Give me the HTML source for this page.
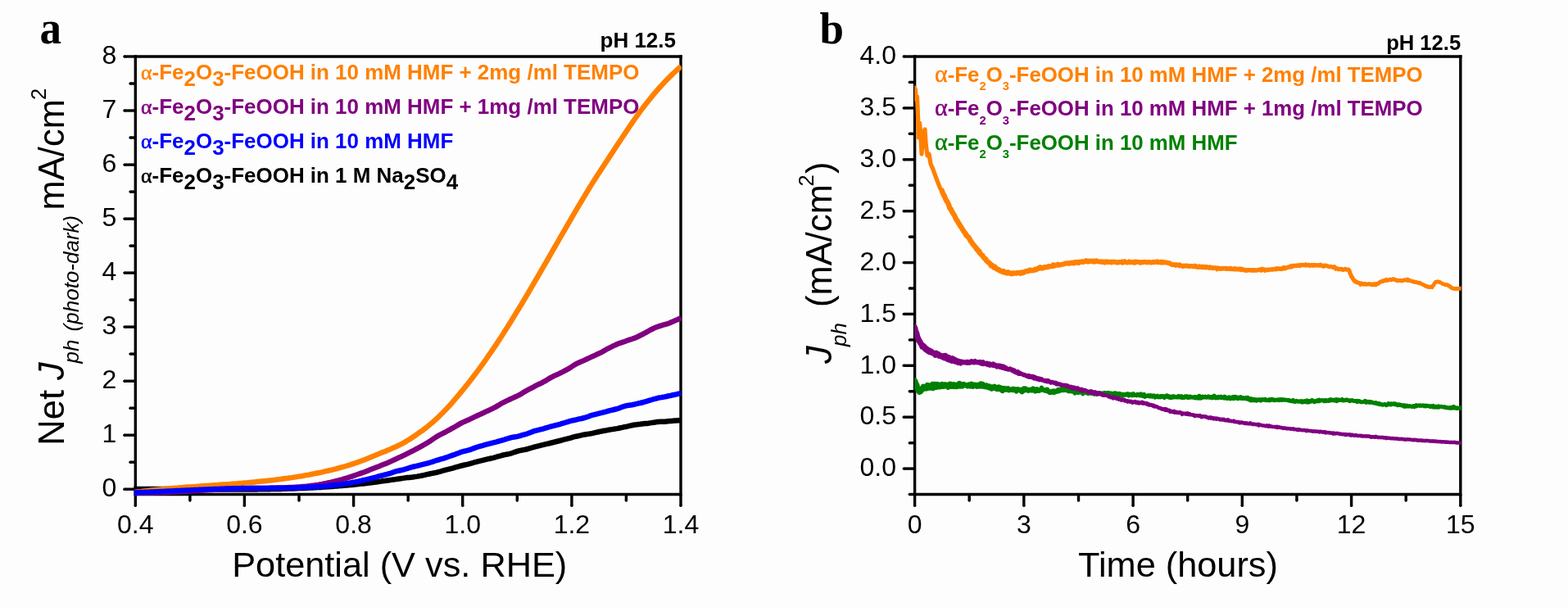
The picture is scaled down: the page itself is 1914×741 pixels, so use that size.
<!DOCTYPE html>
<html lang="en"><head><meta charset="utf-8"><title>Figure</title>
<style>html,body{margin:0;padding:0;background:#fdfdfd;}body{width:1914px;height:741px;overflow:hidden;}svg{display:block;}text{font-family:"Liberation Sans",sans-serif;}.serif{font-family:"Liberation Serif",serif;font-weight:bold;}.b{font-weight:bold;}.i{font-style:italic;}.al{font-family:"Liberation Serif",serif;font-weight:normal;stroke-width:0.5px;paint-order:stroke;}</style></head><body>
<svg width="1914" height="741" viewBox="0 0 1914 741">
<rect width="1914" height="741" fill="#fdfdfd"/>
<g id="chart-a">
<g id="axes-a">
<line x1="165.3" y1="67.3" x2="165.3" y2="605.2" stroke="#000" stroke-width="3.4" stroke-linecap="butt"/>
<line x1="165.3" y1="603.5" x2="165.3" y2="617.3" stroke="#000" stroke-width="3.4" stroke-linecap="butt"/>
<circle cx="165.3" cy="617.3" r="1.70" fill="#000"/>
<line x1="831.0" y1="67.3" x2="831.0" y2="605.2" stroke="#000" stroke-width="3.4" stroke-linecap="butt"/>
<line x1="831.0" y1="603.5" x2="831.0" y2="617.3" stroke="#000" stroke-width="3.4" stroke-linecap="butt"/>
<circle cx="831.0" cy="617.3" r="1.70" fill="#000"/>
<line x1="165.3" y1="69.0" x2="832.7" y2="69.0" stroke="#000" stroke-width="3.4" stroke-linecap="butt"/>
<line x1="165.3" y1="69.0" x2="151.9" y2="69.0" stroke="#000" stroke-width="3.4" stroke-linecap="butt"/>
<circle cx="151.9" cy="69.0" r="1.70" fill="#000"/>
<line x1="165.3" y1="603.5" x2="831.0" y2="603.5" stroke="#000" stroke-width="3.4" stroke-linecap="butt"/>
<line x1="165.3" y1="597.2" x2="151.9" y2="597.2" stroke="#000" stroke-width="3.4" stroke-linecap="butt"/>
<circle cx="151.9" cy="597.2" r="1.70" fill="#000"/>
<line x1="165.3" y1="531.2" x2="151.9" y2="531.2" stroke="#000" stroke-width="3.4" stroke-linecap="butt"/>
<circle cx="151.9" cy="531.2" r="1.70" fill="#000"/>
<line x1="165.3" y1="465.2" x2="151.9" y2="465.2" stroke="#000" stroke-width="3.4" stroke-linecap="butt"/>
<circle cx="151.9" cy="465.2" r="1.70" fill="#000"/>
<line x1="165.3" y1="399.1" x2="151.9" y2="399.1" stroke="#000" stroke-width="3.4" stroke-linecap="butt"/>
<circle cx="151.9" cy="399.1" r="1.70" fill="#000"/>
<line x1="165.3" y1="333.1" x2="151.9" y2="333.1" stroke="#000" stroke-width="3.4" stroke-linecap="butt"/>
<circle cx="151.9" cy="333.1" r="1.70" fill="#000"/>
<line x1="165.3" y1="267.1" x2="151.9" y2="267.1" stroke="#000" stroke-width="3.4" stroke-linecap="butt"/>
<circle cx="151.9" cy="267.1" r="1.70" fill="#000"/>
<line x1="165.3" y1="201.1" x2="151.9" y2="201.1" stroke="#000" stroke-width="3.4" stroke-linecap="butt"/>
<circle cx="151.9" cy="201.1" r="1.70" fill="#000"/>
<line x1="165.3" y1="135.0" x2="151.9" y2="135.0" stroke="#000" stroke-width="3.4" stroke-linecap="butt"/>
<circle cx="151.9" cy="135.0" r="1.70" fill="#000"/>
<line x1="165.3" y1="564.2" x2="159.0" y2="564.2" stroke="#000" stroke-width="3.4" stroke-linecap="butt"/>
<circle cx="159.0" cy="564.2" r="1.70" fill="#000"/>
<line x1="165.3" y1="498.2" x2="159.0" y2="498.2" stroke="#000" stroke-width="3.4" stroke-linecap="butt"/>
<circle cx="159.0" cy="498.2" r="1.70" fill="#000"/>
<line x1="165.3" y1="432.1" x2="159.0" y2="432.1" stroke="#000" stroke-width="3.4" stroke-linecap="butt"/>
<circle cx="159.0" cy="432.1" r="1.70" fill="#000"/>
<line x1="165.3" y1="366.1" x2="159.0" y2="366.1" stroke="#000" stroke-width="3.4" stroke-linecap="butt"/>
<circle cx="159.0" cy="366.1" r="1.70" fill="#000"/>
<line x1="165.3" y1="300.1" x2="159.0" y2="300.1" stroke="#000" stroke-width="3.4" stroke-linecap="butt"/>
<circle cx="159.0" cy="300.1" r="1.70" fill="#000"/>
<line x1="165.3" y1="234.1" x2="159.0" y2="234.1" stroke="#000" stroke-width="3.4" stroke-linecap="butt"/>
<circle cx="159.0" cy="234.1" r="1.70" fill="#000"/>
<line x1="165.3" y1="168.0" x2="159.0" y2="168.0" stroke="#000" stroke-width="3.4" stroke-linecap="butt"/>
<circle cx="159.0" cy="168.0" r="1.70" fill="#000"/>
<line x1="165.3" y1="102.0" x2="159.0" y2="102.0" stroke="#000" stroke-width="3.4" stroke-linecap="butt"/>
<circle cx="159.0" cy="102.0" r="1.70" fill="#000"/>
<line x1="231.9" y1="603.5" x2="231.9" y2="611.0" stroke="#000" stroke-width="3.4" stroke-linecap="butt"/>
<circle cx="231.9" cy="611.0" r="1.70" fill="#000"/>
<line x1="298.4" y1="603.5" x2="298.4" y2="617.3" stroke="#000" stroke-width="3.4" stroke-linecap="butt"/>
<circle cx="298.4" cy="617.3" r="1.70" fill="#000"/>
<line x1="365.0" y1="603.5" x2="365.0" y2="611.0" stroke="#000" stroke-width="3.4" stroke-linecap="butt"/>
<circle cx="365.0" cy="611.0" r="1.70" fill="#000"/>
<line x1="431.6" y1="603.5" x2="431.6" y2="617.3" stroke="#000" stroke-width="3.4" stroke-linecap="butt"/>
<circle cx="431.6" cy="617.3" r="1.70" fill="#000"/>
<line x1="498.2" y1="603.5" x2="498.2" y2="611.0" stroke="#000" stroke-width="3.4" stroke-linecap="butt"/>
<circle cx="498.2" cy="611.0" r="1.70" fill="#000"/>
<line x1="564.7" y1="603.5" x2="564.7" y2="617.3" stroke="#000" stroke-width="3.4" stroke-linecap="butt"/>
<circle cx="564.7" cy="617.3" r="1.70" fill="#000"/>
<line x1="631.3" y1="603.5" x2="631.3" y2="611.0" stroke="#000" stroke-width="3.4" stroke-linecap="butt"/>
<circle cx="631.3" cy="611.0" r="1.70" fill="#000"/>
<line x1="697.9" y1="603.5" x2="697.9" y2="617.3" stroke="#000" stroke-width="3.4" stroke-linecap="butt"/>
<circle cx="697.9" cy="617.3" r="1.70" fill="#000"/>
<line x1="764.4" y1="603.5" x2="764.4" y2="611.0" stroke="#000" stroke-width="3.4" stroke-linecap="butt"/>
<circle cx="764.4" cy="611.0" r="1.70" fill="#000"/>
</g>
<clipPath id="clipa"><rect x="163.4" y="60" width="668.3" height="560"/></clipPath>
<g clip-path="url(#clipa)">
<path d="M163.0 596.9 L165.0 596.9 L167.0 596.9 L169.0 596.9 L171.0 596.9 L173.0 596.9 L175.0 596.9 L177.0 596.9 L179.0 596.9 L181.0 596.9 L183.0 596.9 L185.0 596.9 L187.0 596.9 L189.0 596.9 L191.0 596.9 L193.0 596.9 L195.0 596.9 L197.0 596.9 L199.0 596.9 L201.0 596.9 L203.0 597.0 L205.0 597.0 L207.0 597.0 L209.0 597.0 L211.0 597.0 L213.0 597.0 L215.0 597.0 L217.0 597.0 L219.0 597.1 L221.0 597.1 L223.0 597.1 L225.0 597.1 L227.0 597.1 L229.0 597.1 L231.1 597.2 L233.1 597.2 L235.1 597.2 L237.1 597.2 L239.1 597.2 L241.1 597.2 L243.1 597.3 L245.1 597.3 L247.1 597.3 L249.1 597.3 L251.1 597.3 L253.1 597.3 L255.1 597.3 L257.1 597.4 L259.1 597.4 L261.1 597.4 L263.1 597.4 L265.1 597.4 L267.1 597.4 L269.1 597.4 L271.1 597.4 L273.1 597.4 L275.1 597.5 L277.1 597.5 L279.1 597.5 L281.1 597.5 L283.1 597.5 L285.1 597.5 L287.1 597.5 L289.1 597.5 L291.1 597.5 L293.1 597.5 L295.1 597.5 L297.1 597.5 L299.1 597.5 L301.1 597.4 L303.1 597.4 L305.1 597.4 L307.1 597.4 L309.1 597.4 L311.1 597.4 L313.1 597.4 L315.1 597.3 L317.1 597.3 L319.1 597.3 L321.1 597.3 L323.1 597.2 L325.1 597.2 L327.1 597.2 L329.1 597.2 L331.1 597.1 L333.1 597.1 L335.1 597.0 L337.1 597.0 L339.1 597.0 L341.1 596.9 L343.1 596.9 L345.1 596.8 L347.1 596.8 L349.1 596.7 L351.1 596.6 L353.1 596.6 L355.1 596.5 L357.1 596.4 L359.1 596.4 L361.1 596.3 L363.1 596.2 L365.2 596.1 L367.2 596.1 L369.2 596.0 L371.2 595.9 L373.2 595.8 L375.2 595.7 L377.2 595.6 L379.2 595.5 L381.2 595.4 L383.2 595.3 L385.2 595.2 L387.2 595.1 L389.2 595.0 L391.2 594.9 L393.2 594.7 L395.2 594.6 L397.2 594.5 L399.2 594.3 L401.2 594.2 L403.2 594.1 L405.2 593.9 L407.2 593.8 L409.2 593.6 L411.2 593.5 L413.2 593.3 L415.2 593.1 L417.2 593.0 L419.2 592.8 L421.2 592.6 L423.2 592.4 L425.2 592.3 L427.2 592.1 L429.2 591.9 L431.2 591.7 L433.2 591.5 L435.2 591.3 L437.2 591.1 L439.2 590.8 L441.2 590.6 L443.2 590.4 L445.2 590.2 L447.2 589.9 L449.2 589.7 L451.2 589.4 L453.2 589.2 L455.2 588.9 L457.2 588.7 L459.2 588.4 L461.2 588.2 L463.2 587.9 L465.2 587.6 L467.2 587.3 L469.2 587.1 L471.2 586.8 L473.2 586.5 L475.2 586.2 L477.2 585.9 L479.2 585.6 L481.2 585.4 L483.2 585.1 L485.2 584.8 L487.2 584.5 L489.2 584.2 L491.2 583.9 L493.2 583.6 L495.2 583.3 L497.2 583.1 L499.3 582.9 L501.3 582.7 L503.3 582.5 L505.3 582.2 L507.3 581.9 L509.3 581.6 L511.3 581.2 L513.3 580.9 L515.3 580.5 L517.3 580.1 L519.3 579.6 L521.3 579.1 L523.3 578.7 L525.3 578.3 L527.3 577.9 L529.3 577.5 L531.3 577.1 L533.3 576.7 L535.3 576.1 L537.3 575.6 L539.3 575.0 L541.3 574.4 L543.3 573.8 L545.3 573.3 L547.3 572.8 L549.3 572.3 L551.3 571.8 L553.3 571.3 L555.3 570.7 L557.3 570.2 L559.3 569.6 L561.3 569.0 L563.3 568.5 L565.3 568.0 L567.3 567.5 L569.3 567.1 L571.3 566.7 L573.3 566.2 L575.3 565.6 L577.3 565.0 L579.3 564.4 L581.3 563.9 L583.3 563.3 L585.3 562.8 L587.3 562.4 L589.3 561.9 L591.3 561.4 L593.3 560.9 L595.3 560.4 L597.3 560.0 L599.3 559.5 L601.3 559.1 L603.3 558.6 L605.3 558.0 L607.3 557.4 L609.3 556.8 L611.3 556.3 L613.3 555.7 L615.3 555.3 L617.3 554.9 L619.3 554.5 L621.3 554.1 L623.3 553.6 L625.3 553.0 L627.3 552.3 L629.3 551.6 L631.4 550.9 L633.4 550.3 L635.4 549.9 L637.4 549.5 L639.4 549.1 L641.4 548.7 L643.4 548.3 L645.4 547.7 L647.4 547.1 L649.4 546.5 L651.4 545.9 L653.4 545.4 L655.4 544.9 L657.4 544.4 L659.4 543.9 L661.4 543.4 L663.4 542.9 L665.4 542.4 L667.4 541.9 L669.4 541.5 L671.4 541.0 L673.4 540.5 L675.4 540.0 L677.4 539.5 L679.4 539.0 L681.4 538.5 L683.4 538.0 L685.4 537.5 L687.4 536.9 L689.4 536.4 L691.4 535.9 L693.4 535.4 L695.4 534.9 L697.4 534.3 L699.4 533.7 L701.4 533.2 L703.4 532.7 L705.4 532.3 L707.4 531.8 L709.4 531.4 L711.4 530.9 L713.4 530.5 L715.4 530.2 L717.4 529.9 L719.4 529.6 L721.4 529.3 L723.4 528.9 L725.4 528.4 L727.4 527.9 L729.4 527.5 L731.4 527.0 L733.4 526.6 L735.4 526.2 L737.4 525.8 L739.4 525.5 L741.4 525.1 L743.4 524.7 L745.4 524.4 L747.4 524.1 L749.4 523.8 L751.4 523.4 L753.4 523.1 L755.4 522.7 L757.4 522.3 L759.4 521.9 L761.4 521.4 L763.4 521.0 L765.5 520.6 L767.5 520.1 L769.5 519.6 L771.5 519.2 L773.5 518.8 L775.5 518.5 L777.5 518.3 L779.5 518.0 L781.5 517.8 L783.5 517.5 L785.5 517.3 L787.5 517.1 L789.5 516.9 L791.5 516.7 L793.5 516.4 L795.5 516.1 L797.5 515.8 L799.5 515.5 L801.5 515.1 L803.5 514.9 L805.5 514.8 L807.5 514.7 L809.5 514.7 L811.5 514.7 L813.5 514.5 L815.5 514.3 L817.5 514.1 L819.5 514.0 L821.5 513.8 L823.5 513.6 L825.5 513.5 L827.5 513.3 L829.5 513.2 L831.5 513.0" fill="none" stroke="#000000" stroke-width="6.5" stroke-linejoin="round" stroke-linecap="butt"/>
<path d="M163.3 601.1 L166.3 600.7 L169.3 600.3 L172.3 600.0 L175.3 599.6 L178.3 599.3 L181.4 598.9 L184.4 598.6 L187.4 598.3 L190.4 598.0 L193.4 597.7 L196.4 597.4 L199.4 597.1 L202.4 596.8 L205.4 596.6 L208.4 596.3 L211.5 596.0 L214.5 595.8 L217.5 595.6 L220.5 595.3 L223.5 595.1 L226.5 594.8 L229.5 594.6 L232.5 594.4 L235.5 594.2 L238.5 594.0 L241.6 593.7 L244.6 593.5 L247.6 593.3 L250.6 593.1 L253.6 592.9 L256.6 592.7 L259.6 592.5 L262.6 592.3 L265.6 592.1 L268.6 591.8 L271.7 591.6 L274.7 591.4 L277.7 591.2 L280.7 591.0 L283.7 590.7 L286.7 590.5 L289.7 590.3 L292.7 590.0 L295.7 589.8 L298.7 589.5 L301.8 589.3 L304.8 589.0 L307.8 588.7 L310.8 588.4 L313.8 588.1 L316.8 587.8 L319.8 587.5 L322.8 587.2 L325.8 586.9 L328.8 586.6 L331.9 586.2 L334.9 585.9 L337.9 585.5 L340.9 585.1 L343.9 584.7 L346.9 584.3 L349.9 583.9 L352.9 583.5 L355.9 583.1 L358.9 582.6 L362.0 582.1 L365.0 581.6 L368.0 581.2 L371.0 580.6 L374.0 580.1 L377.0 579.6 L380.0 579.0 L383.0 578.4 L386.0 577.8 L389.0 577.2 L392.1 576.6 L395.1 575.9 L398.1 575.2 L401.1 574.5 L404.1 573.8 L407.1 573.1 L410.1 572.3 L413.1 571.5 L416.1 570.7 L419.1 569.9 L422.2 569.0 L425.2 568.1 L428.2 567.2 L431.2 566.2 L434.2 565.2 L437.2 564.1 L440.2 563.0 L443.2 561.9 L446.2 560.7 L449.2 559.5 L452.3 558.2 L455.3 557.0 L458.3 555.8 L461.3 554.5 L464.3 553.3 L467.3 552.1 L470.3 550.9 L473.3 549.6 L476.3 548.4 L479.3 547.1 L482.4 545.7 L485.4 544.3 L488.4 542.9 L491.4 541.3 L494.4 539.6 L497.4 537.8 L500.4 536.0 L503.4 534.0 L506.4 532.0 L509.4 529.9 L512.4 527.7 L515.5 525.6 L518.5 523.3 L521.5 521.0 L524.5 518.5 L527.5 516.0 L530.5 513.4 L533.5 510.6 L536.5 507.8 L539.5 504.8 L542.5 501.7 L545.6 498.5 L548.6 495.3 L551.6 491.9 L554.6 488.4 L557.6 484.9 L560.6 481.3 L563.6 477.7 L566.6 474.0 L569.6 470.2 L572.6 466.4 L575.7 462.5 L578.7 458.6 L581.7 454.6 L584.7 450.6 L587.7 446.4 L590.7 442.3 L593.7 438.0 L596.7 433.7 L599.7 429.3 L602.7 424.9 L605.8 420.4 L608.8 415.8 L611.8 411.2 L614.8 406.5 L617.8 401.8 L620.8 397.0 L623.8 392.2 L626.8 387.3 L629.8 382.4 L632.8 377.5 L635.9 372.5 L638.9 367.5 L641.9 362.4 L644.9 357.3 L647.9 352.2 L650.9 347.1 L653.9 341.9 L656.9 336.8 L659.9 331.6 L662.9 326.4 L666.0 321.1 L669.0 315.9 L672.0 310.7 L675.0 305.4 L678.0 300.2 L681.0 295.0 L684.0 289.7 L687.0 284.5 L690.0 279.3 L693.0 274.1 L696.1 268.9 L699.1 263.7 L702.1 258.5 L705.1 253.4 L708.1 248.3 L711.1 243.3 L714.1 238.3 L717.1 233.3 L720.1 228.4 L723.1 223.6 L726.2 218.8 L729.2 214.1 L732.2 209.5 L735.2 204.9 L738.2 200.3 L741.2 195.7 L744.2 191.1 L747.2 186.6 L750.2 182.0 L753.2 177.4 L756.3 172.8 L759.3 168.3 L762.3 163.7 L765.3 159.2 L768.3 154.7 L771.3 150.3 L774.3 146.0 L777.3 141.8 L780.3 137.6 L783.3 133.6 L786.4 129.6 L789.4 125.7 L792.4 122.0 L795.4 118.3 L798.4 114.7 L801.4 111.2 L804.4 107.7 L807.4 104.4 L810.4 101.1 L813.4 98.0 L816.5 94.9 L819.5 91.9 L822.5 89.0 L825.5 86.2 L828.5 83.5 L831.5 80.9" fill="none" stroke="#ff8000" stroke-width="6.5" stroke-linejoin="round" stroke-linecap="butt"/>
<path d="M163.3 601.5 L165.3 601.5 L167.3 601.5 L169.3 601.5 L171.3 601.5 L173.3 601.5 L175.3 601.5 L177.3 601.5 L179.3 601.5 L181.3 601.5 L183.3 601.4 L185.3 601.4 L187.3 601.4 L189.3 601.3 L191.3 601.3 L193.3 601.2 L195.3 601.1 L197.3 601.1 L199.3 601.0 L201.3 600.9 L203.3 600.9 L205.3 600.8 L207.3 600.7 L209.3 600.6 L211.3 600.5 L213.3 600.4 L215.3 600.3 L217.3 600.2 L219.3 600.1 L221.3 600.0 L223.3 599.9 L225.3 599.8 L227.3 599.7 L229.3 599.6 L231.3 599.5 L233.3 599.4 L235.3 599.3 L237.3 599.1 L239.3 599.0 L241.3 598.9 L243.3 598.8 L245.3 598.7 L247.3 598.6 L249.3 598.5 L251.3 598.3 L253.3 598.2 L255.3 598.1 L257.3 598.0 L259.3 597.9 L261.3 597.8 L263.3 597.7 L265.3 597.6 L267.3 597.5 L269.3 597.4 L271.3 597.3 L273.3 597.2 L275.3 597.1 L277.3 597.0 L279.3 596.9 L281.3 596.8 L283.3 596.7 L285.3 596.7 L287.3 596.6 L289.3 596.5 L291.3 596.5 L293.3 596.4 L295.3 596.3 L297.3 596.3 L299.3 596.2 L301.3 596.2 L303.3 596.2 L305.3 596.1 L307.3 596.1 L309.3 596.1 L311.3 596.0 L313.3 596.0 L315.3 596.0 L317.3 596.0 L319.3 596.0 L321.3 595.9 L323.3 595.9 L325.3 595.9 L327.3 595.9 L329.3 595.8 L331.4 595.8 L333.4 595.8 L335.4 595.7 L337.4 595.7 L339.4 595.6 L341.4 595.6 L343.4 595.5 L345.4 595.5 L347.4 595.4 L349.4 595.3 L351.4 595.2 L353.4 595.1 L355.4 595.0 L357.4 594.9 L359.4 594.8 L361.4 594.7 L363.4 594.5 L365.4 594.4 L367.4 594.2 L369.4 594.0 L371.4 593.9 L373.4 593.7 L375.4 593.5 L377.4 593.2 L379.4 593.0 L381.4 592.7 L383.4 592.5 L385.4 592.2 L387.4 591.9 L389.4 591.6 L391.4 591.2 L393.4 590.9 L395.4 590.5 L397.4 590.1 L399.4 589.7 L401.4 589.3 L403.4 588.9 L405.4 588.4 L407.4 587.9 L409.4 587.4 L411.4 586.9 L413.4 586.4 L415.4 585.8 L417.4 585.3 L419.4 584.7 L421.4 584.1 L423.4 583.5 L425.4 582.9 L427.4 582.2 L429.4 581.6 L431.4 580.9 L433.4 580.2 L435.4 579.5 L437.4 578.8 L439.4 578.1 L441.4 577.4 L443.4 576.7 L445.4 576.0 L447.4 575.2 L449.4 574.4 L451.4 573.6 L453.4 572.8 L455.4 572.0 L457.4 571.2 L459.4 570.4 L461.4 569.7 L463.4 568.9 L465.4 568.1 L467.4 567.3 L469.4 566.5 L471.4 565.7 L473.4 564.9 L475.4 564.0 L477.4 563.1 L479.4 562.1 L481.4 561.2 L483.4 560.3 L485.4 559.3 L487.4 558.4 L489.4 557.5 L491.4 556.6 L493.4 555.6 L495.4 554.7 L497.4 553.7 L499.4 552.7 L501.4 551.7 L503.4 550.6 L505.4 549.6 L507.4 548.5 L509.4 547.5 L511.4 546.4 L513.4 545.3 L515.4 544.2 L517.4 543.0 L519.4 541.9 L521.4 540.7 L523.4 539.5 L525.4 538.2 L527.4 536.8 L529.4 535.4 L531.4 534.1 L533.4 532.8 L535.4 531.7 L537.4 530.7 L539.4 529.7 L541.4 528.7 L543.4 527.6 L545.4 526.5 L547.4 525.4 L549.4 524.3 L551.4 523.2 L553.4 522.1 L555.4 521.0 L557.4 519.8 L559.4 518.6 L561.4 517.4 L563.4 516.3 L565.4 515.4 L567.4 514.5 L569.4 513.6 L571.4 512.8 L573.4 511.8 L575.4 510.9 L577.4 509.9 L579.4 508.9 L581.4 508.0 L583.4 507.0 L585.4 506.1 L587.4 505.2 L589.4 504.3 L591.4 503.3 L593.4 502.4 L595.4 501.5 L597.4 500.6 L599.4 499.6 L601.4 498.7 L603.4 497.7 L605.4 496.6 L607.4 495.4 L609.4 494.2 L611.4 492.9 L613.4 491.9 L615.4 490.9 L617.4 489.9 L619.4 488.9 L621.4 488.0 L623.4 487.0 L625.4 486.1 L627.4 485.2 L629.4 484.3 L631.4 483.4 L633.4 482.4 L635.4 481.3 L637.4 480.1 L639.4 478.8 L641.4 477.6 L643.4 476.5 L645.4 475.4 L647.4 474.4 L649.4 473.3 L651.4 472.3 L653.4 471.2 L655.4 470.2 L657.4 469.2 L659.4 468.3 L661.4 467.3 L663.4 466.2 L665.5 465.1 L667.5 463.9 L669.5 462.6 L671.5 461.4 L673.5 460.3 L675.5 459.3 L677.5 458.4 L679.5 457.5 L681.5 456.6 L683.5 455.6 L685.5 454.6 L687.5 453.6 L689.5 452.5 L691.5 451.5 L693.5 450.4 L695.5 449.2 L697.5 447.9 L699.5 446.6 L701.5 445.3 L703.5 444.2 L705.5 443.2 L707.5 442.3 L709.5 441.4 L711.5 440.6 L713.5 439.7 L715.5 438.7 L717.5 437.8 L719.5 436.9 L721.5 435.9 L723.5 435.0 L725.5 434.1 L727.5 433.2 L729.5 432.2 L731.5 431.3 L733.5 430.3 L735.5 429.3 L737.5 428.1 L739.5 427.0 L741.5 425.8 L743.5 424.8 L745.5 423.8 L747.5 422.8 L749.5 421.9 L751.5 421.0 L753.5 420.0 L755.5 419.2 L757.5 418.6 L759.5 417.9 L761.5 417.3 L763.5 416.6 L765.5 415.8 L767.5 415.1 L769.5 414.4 L771.5 413.8 L773.5 413.1 L775.5 412.4 L777.5 411.5 L779.5 410.5 L781.5 409.5 L783.5 408.5 L785.5 407.5 L787.5 406.4 L789.5 405.3 L791.5 404.2 L793.5 403.0 L795.5 402.0 L797.5 401.0 L799.5 400.1 L801.5 399.3 L803.5 398.6 L805.5 397.9 L807.5 397.3 L809.5 396.7 L811.5 396.2 L813.5 395.6 L815.5 395.0 L817.5 394.2 L819.5 393.3 L821.5 392.5 L823.5 391.6 L825.5 390.8 L827.5 390.0 L829.5 389.0 L831.5 387.8" fill="none" stroke="#800080" stroke-width="6.5" stroke-linejoin="round" stroke-linecap="butt"/>
<path d="M163.3 601.3 L165.3 601.3 L167.3 601.2 L169.3 601.1 L171.3 601.1 L173.3 601.0 L175.3 600.9 L177.3 600.8 L179.3 600.8 L181.3 600.7 L183.3 600.6 L185.3 600.5 L187.3 600.4 L189.3 600.3 L191.3 600.2 L193.3 600.2 L195.3 600.1 L197.3 600.0 L199.3 599.9 L201.3 599.8 L203.3 599.7 L205.3 599.6 L207.3 599.5 L209.3 599.4 L211.3 599.3 L213.3 599.2 L215.3 599.1 L217.3 599.0 L219.3 598.9 L221.3 598.8 L223.3 598.7 L225.3 598.7 L227.3 598.6 L229.3 598.5 L231.3 598.4 L233.3 598.3 L235.3 598.2 L237.3 598.1 L239.3 598.0 L241.3 597.9 L243.3 597.8 L245.3 597.7 L247.3 597.7 L249.3 597.6 L251.3 597.5 L253.3 597.4 L255.3 597.3 L257.3 597.2 L259.3 597.2 L261.3 597.1 L263.3 597.0 L265.3 596.9 L267.3 596.9 L269.3 596.8 L271.3 596.7 L273.3 596.7 L275.3 596.6 L277.3 596.5 L279.3 596.5 L281.3 596.4 L283.3 596.4 L285.3 596.3 L287.3 596.3 L289.3 596.2 L291.3 596.2 L293.3 596.2 L295.3 596.1 L297.3 596.1 L299.3 596.1 L301.3 596.0 L303.3 596.0 L305.3 596.0 L307.3 596.0 L309.3 596.0 L311.3 596.0 L313.3 595.9 L315.3 595.9 L317.3 595.9 L319.3 595.9 L321.3 595.9 L323.3 595.9 L325.3 595.9 L327.3 595.9 L329.3 595.9 L331.4 595.8 L333.4 595.8 L335.4 595.8 L337.4 595.8 L339.4 595.8 L341.4 595.8 L343.4 595.7 L345.4 595.7 L347.4 595.7 L349.4 595.7 L351.4 595.6 L353.4 595.6 L355.4 595.6 L357.4 595.5 L359.4 595.5 L361.4 595.4 L363.4 595.4 L365.4 595.3 L367.4 595.2 L369.4 595.1 L371.4 595.1 L373.4 595.0 L375.4 594.9 L377.4 594.8 L379.4 594.7 L381.4 594.6 L383.4 594.5 L385.4 594.3 L387.4 594.2 L389.4 594.0 L391.4 593.9 L393.4 593.7 L395.4 593.6 L397.4 593.4 L399.4 593.2 L401.4 593.0 L403.4 592.8 L405.4 592.6 L407.4 592.4 L409.4 592.1 L411.4 591.9 L413.4 591.6 L415.4 591.3 L417.4 591.1 L419.4 590.8 L421.4 590.5 L423.4 590.1 L425.4 589.8 L427.4 589.5 L429.4 589.1 L431.4 588.7 L433.4 588.4 L435.4 588.0 L437.4 587.6 L439.4 587.1 L441.4 586.7 L443.4 586.2 L445.4 585.8 L447.4 585.3 L449.4 584.8 L451.4 584.3 L453.4 583.8 L455.4 583.3 L457.4 582.8 L459.4 582.3 L461.4 581.7 L463.4 581.2 L465.4 580.6 L467.4 580.2 L469.4 579.7 L471.4 579.2 L473.4 578.7 L475.4 578.1 L477.4 577.5 L479.4 576.7 L481.4 576.0 L483.4 575.4 L485.4 574.9 L487.4 574.5 L489.4 574.0 L491.4 573.6 L493.4 573.1 L495.4 572.5 L497.4 571.9 L499.4 571.2 L501.4 570.6 L503.4 570.0 L505.4 569.5 L507.4 569.1 L509.4 568.6 L511.4 568.2 L513.4 567.7 L515.4 567.2 L517.4 566.7 L519.4 566.2 L521.4 565.7 L523.4 565.1 L525.4 564.5 L527.4 563.9 L529.4 563.2 L531.4 562.5 L533.4 561.9 L535.4 561.3 L537.4 560.7 L539.4 560.1 L541.4 559.6 L543.4 558.9 L545.4 558.2 L547.4 557.5 L549.4 556.8 L551.4 556.1 L553.4 555.4 L555.4 554.7 L557.4 553.9 L559.4 553.2 L561.4 552.4 L563.4 551.7 L565.4 551.2 L567.4 550.6 L569.4 550.2 L571.4 549.7 L573.4 549.1 L575.4 548.4 L577.4 547.6 L579.4 546.9 L581.4 546.1 L583.4 545.5 L585.4 544.9 L587.4 544.3 L589.4 543.8 L591.4 543.2 L593.4 542.7 L595.4 542.2 L597.4 541.7 L599.4 541.1 L601.4 540.6 L603.4 540.1 L605.4 539.6 L607.4 539.0 L609.4 538.5 L611.4 537.9 L613.4 537.3 L615.4 536.8 L617.4 536.1 L619.4 535.5 L621.4 534.9 L623.4 534.3 L625.4 533.9 L627.4 533.5 L629.4 533.2 L631.4 532.9 L633.4 532.4 L635.4 531.8 L637.4 531.2 L639.4 530.7 L641.4 530.1 L643.4 529.5 L645.4 528.8 L647.4 528.0 L649.4 527.2 L651.4 526.4 L653.4 525.8 L655.4 525.3 L657.4 524.8 L659.4 524.3 L661.4 523.8 L663.4 523.3 L665.5 522.7 L667.5 522.1 L669.5 521.5 L671.5 520.9 L673.5 520.3 L675.5 519.8 L677.5 519.3 L679.5 518.8 L681.5 518.3 L683.5 517.8 L685.5 517.2 L687.5 516.6 L689.5 516.0 L691.5 515.4 L693.5 514.8 L695.5 514.2 L697.5 513.7 L699.5 513.2 L701.5 512.8 L703.5 512.3 L705.5 511.8 L707.5 511.4 L709.5 511.0 L711.5 510.5 L713.5 510.0 L715.5 509.4 L717.5 508.7 L719.5 507.9 L721.5 507.2 L723.5 506.6 L725.5 506.1 L727.5 505.7 L729.5 505.2 L731.5 504.7 L733.5 504.2 L735.5 503.7 L737.5 503.1 L739.5 502.6 L741.5 502.0 L743.5 501.5 L745.5 500.9 L747.5 500.5 L749.5 500.0 L751.5 499.5 L753.5 499.0 L755.5 498.4 L757.5 497.6 L759.5 496.8 L761.5 496.1 L763.5 495.5 L765.5 495.1 L767.5 494.8 L769.5 494.5 L771.5 494.2 L773.5 493.8 L775.5 493.3 L777.5 492.9 L779.5 492.4 L781.5 492.0 L783.5 491.5 L785.5 491.0 L787.5 490.4 L789.5 489.8 L791.5 489.2 L793.5 488.6 L795.5 488.0 L797.5 487.4 L799.5 486.9 L801.5 486.3 L803.5 485.8 L805.5 485.4 L807.5 485.1 L809.5 484.7 L811.5 484.4 L813.5 484.0 L815.5 483.5 L817.5 483.1 L819.5 482.7 L821.5 482.2 L823.5 481.8 L825.5 481.4 L827.5 480.9 L829.5 480.5 L831.5 480.0" fill="none" stroke="#0000ff" stroke-width="6.5" stroke-linejoin="round" stroke-linecap="butt"/>
</g>
<text x="142.3" y="606.4" font-size="32" text-anchor="end">0</text>
<text x="142.3" y="540.4" font-size="32" text-anchor="end">1</text>
<text x="142.3" y="474.4" font-size="32" text-anchor="end">2</text>
<text x="142.3" y="408.3" font-size="32" text-anchor="end">3</text>
<text x="142.3" y="342.3" font-size="32" text-anchor="end">4</text>
<text x="142.3" y="276.3" font-size="32" text-anchor="end">5</text>
<text x="142.3" y="210.2" font-size="32" text-anchor="end">6</text>
<text x="142.3" y="144.2" font-size="32" text-anchor="end">7</text>
<text x="142.3" y="78.2" font-size="32" text-anchor="end">8</text>
<text x="165.3" y="650.5" font-size="32" text-anchor="middle">0.4</text>
<text x="298.4" y="650.5" font-size="32" text-anchor="middle">0.6</text>
<text x="431.6" y="650.5" font-size="32" text-anchor="middle">0.8</text>
<text x="564.7" y="650.5" font-size="32" text-anchor="middle">1.0</text>
<text x="697.9" y="650.5" font-size="32" text-anchor="middle">1.2</text>
<text x="831.0" y="650.5" font-size="32" text-anchor="middle">1.4</text>
<text x="487.7" y="704" font-size="43.3" text-anchor="middle">Potential (V vs. RHE)</text>
<g transform="translate(77.9,540.4) rotate(-90)" font-size="43.5"><text x="-3.3" y="0">Net</text> <text x="76.5" y="0" class="i">J</text> <text x="97" y="17.7" class="i" font-size="26">ph</text> <text x="136" y="17.7" class="i" font-size="26">(photo-dark)</text> <text x="284" y="0">mA/cm</text> <text x="418.5" y="-22.4" font-size="25.5">2</text></g>
<text transform="translate(172,97.2) scale(1.022,1)" font-size="25.4" class="b" fill="#ff8000"><tspan class="al" stroke="#ff8000">α</tspan>-Fe<tspan dy="8.2">2</tspan><tspan dy="-8.2">O</tspan><tspan dy="8.2">3</tspan><tspan dy="-8.2">-FeOOH in 10 mM HMF + 2mg /ml TEMPO</tspan></text>
<text transform="translate(172,139.0) scale(1.022,1)" font-size="25.4" class="b" fill="#800080"><tspan class="al" stroke="#800080">α</tspan>-Fe<tspan dy="8.2">2</tspan><tspan dy="-8.2">O</tspan><tspan dy="8.2">3</tspan><tspan dy="-8.2">-FeOOH in 10 mM HMF + 1mg /ml TEMPO</tspan></text>
<text transform="translate(172,181.0) scale(1.022,1)" font-size="25.4" class="b" fill="#0000ff"><tspan class="al" stroke="#0000ff">α</tspan>-Fe<tspan dy="8.2">2</tspan><tspan dy="-8.2">O</tspan><tspan dy="8.2">3</tspan><tspan dy="-8.2">-FeOOH in 10 mM HMF</tspan></text>
<text transform="translate(172,223.0) scale(1.022,1)" font-size="25.4" class="b" fill="#000000"><tspan class="al" stroke="#000000">α</tspan>-Fe<tspan dy="8.2">2</tspan><tspan dy="-8.2">O</tspan><tspan dy="8.2">3</tspan><tspan dy="-8.2">-FeOOH in 1 M Na</tspan><tspan dy="8.2">2</tspan><tspan dy="-8.2">SO</tspan><tspan dy="8.2">4</tspan><tspan dy="-8.2"></tspan></text>
<text x="825" y="58.3" font-size="26" class="b" text-anchor="end">pH 12.5</text>
<text transform="translate(48.6,52.9) scale(1,1.07)" font-size="53" class="serif">a</text>
</g>
<g id="chart-b">
<g id="axes-b">
<line x1="1116.6" y1="67.3" x2="1116.6" y2="605.2" stroke="#000" stroke-width="3.4" stroke-linecap="butt"/>
<line x1="1116.6" y1="603.5" x2="1116.6" y2="617.3" stroke="#000" stroke-width="3.4" stroke-linecap="butt"/>
<circle cx="1116.6" cy="617.3" r="1.70" fill="#000"/>
<line x1="1782.8" y1="67.3" x2="1782.8" y2="605.2" stroke="#000" stroke-width="3.4" stroke-linecap="butt"/>
<line x1="1782.8" y1="603.5" x2="1782.8" y2="617.3" stroke="#000" stroke-width="3.4" stroke-linecap="butt"/>
<circle cx="1782.8" cy="617.3" r="1.70" fill="#000"/>
<line x1="1116.6" y1="69.0" x2="1784.5" y2="69.0" stroke="#000" stroke-width="3.4" stroke-linecap="butt"/>
<line x1="1116.6" y1="69.0" x2="1103.2" y2="69.0" stroke="#000" stroke-width="3.4" stroke-linecap="butt"/>
<circle cx="1103.2" cy="69.0" r="1.70" fill="#000"/>
<line x1="1116.6" y1="603.5" x2="1782.8" y2="603.5" stroke="#000" stroke-width="3.4" stroke-linecap="butt"/>
<line x1="1116.6" y1="603.5" x2="1110.3" y2="603.5" stroke="#000" stroke-width="3.4" stroke-linecap="butt"/>
<circle cx="1110.3" cy="603.5" r="1.70" fill="#000"/>
<line x1="1116.6" y1="572.1" x2="1103.2" y2="572.1" stroke="#000" stroke-width="3.4" stroke-linecap="butt"/>
<circle cx="1103.2" cy="572.1" r="1.70" fill="#000"/>
<line x1="1116.6" y1="509.2" x2="1103.2" y2="509.2" stroke="#000" stroke-width="3.4" stroke-linecap="butt"/>
<circle cx="1103.2" cy="509.2" r="1.70" fill="#000"/>
<line x1="1116.6" y1="446.3" x2="1103.2" y2="446.3" stroke="#000" stroke-width="3.4" stroke-linecap="butt"/>
<circle cx="1103.2" cy="446.3" r="1.70" fill="#000"/>
<line x1="1116.6" y1="383.4" x2="1103.2" y2="383.4" stroke="#000" stroke-width="3.4" stroke-linecap="butt"/>
<circle cx="1103.2" cy="383.4" r="1.70" fill="#000"/>
<line x1="1116.6" y1="320.6" x2="1103.2" y2="320.6" stroke="#000" stroke-width="3.4" stroke-linecap="butt"/>
<circle cx="1103.2" cy="320.6" r="1.70" fill="#000"/>
<line x1="1116.6" y1="257.7" x2="1103.2" y2="257.7" stroke="#000" stroke-width="3.4" stroke-linecap="butt"/>
<circle cx="1103.2" cy="257.7" r="1.70" fill="#000"/>
<line x1="1116.6" y1="194.8" x2="1103.2" y2="194.8" stroke="#000" stroke-width="3.4" stroke-linecap="butt"/>
<circle cx="1103.2" cy="194.8" r="1.70" fill="#000"/>
<line x1="1116.6" y1="131.9" x2="1103.2" y2="131.9" stroke="#000" stroke-width="3.4" stroke-linecap="butt"/>
<circle cx="1103.2" cy="131.9" r="1.70" fill="#000"/>
<line x1="1116.6" y1="540.7" x2="1110.3" y2="540.7" stroke="#000" stroke-width="3.4" stroke-linecap="butt"/>
<circle cx="1110.3" cy="540.7" r="1.70" fill="#000"/>
<line x1="1116.6" y1="477.8" x2="1110.3" y2="477.8" stroke="#000" stroke-width="3.4" stroke-linecap="butt"/>
<circle cx="1110.3" cy="477.8" r="1.70" fill="#000"/>
<line x1="1116.6" y1="414.9" x2="1110.3" y2="414.9" stroke="#000" stroke-width="3.4" stroke-linecap="butt"/>
<circle cx="1110.3" cy="414.9" r="1.70" fill="#000"/>
<line x1="1116.6" y1="352.0" x2="1110.3" y2="352.0" stroke="#000" stroke-width="3.4" stroke-linecap="butt"/>
<circle cx="1110.3" cy="352.0" r="1.70" fill="#000"/>
<line x1="1116.6" y1="289.1" x2="1110.3" y2="289.1" stroke="#000" stroke-width="3.4" stroke-linecap="butt"/>
<circle cx="1110.3" cy="289.1" r="1.70" fill="#000"/>
<line x1="1116.6" y1="226.2" x2="1110.3" y2="226.2" stroke="#000" stroke-width="3.4" stroke-linecap="butt"/>
<circle cx="1110.3" cy="226.2" r="1.70" fill="#000"/>
<line x1="1116.6" y1="163.3" x2="1110.3" y2="163.3" stroke="#000" stroke-width="3.4" stroke-linecap="butt"/>
<circle cx="1110.3" cy="163.3" r="1.70" fill="#000"/>
<line x1="1116.6" y1="100.4" x2="1110.3" y2="100.4" stroke="#000" stroke-width="3.4" stroke-linecap="butt"/>
<circle cx="1110.3" cy="100.4" r="1.70" fill="#000"/>
<line x1="1183.2" y1="603.5" x2="1183.2" y2="611.0" stroke="#000" stroke-width="3.4" stroke-linecap="butt"/>
<circle cx="1183.2" cy="611.0" r="1.70" fill="#000"/>
<line x1="1249.8" y1="603.5" x2="1249.8" y2="617.3" stroke="#000" stroke-width="3.4" stroke-linecap="butt"/>
<circle cx="1249.8" cy="617.3" r="1.70" fill="#000"/>
<line x1="1316.5" y1="603.5" x2="1316.5" y2="611.0" stroke="#000" stroke-width="3.4" stroke-linecap="butt"/>
<circle cx="1316.5" cy="611.0" r="1.70" fill="#000"/>
<line x1="1383.1" y1="603.5" x2="1383.1" y2="617.3" stroke="#000" stroke-width="3.4" stroke-linecap="butt"/>
<circle cx="1383.1" cy="617.3" r="1.70" fill="#000"/>
<line x1="1449.7" y1="603.5" x2="1449.7" y2="611.0" stroke="#000" stroke-width="3.4" stroke-linecap="butt"/>
<circle cx="1449.7" cy="611.0" r="1.70" fill="#000"/>
<line x1="1516.3" y1="603.5" x2="1516.3" y2="617.3" stroke="#000" stroke-width="3.4" stroke-linecap="butt"/>
<circle cx="1516.3" cy="617.3" r="1.70" fill="#000"/>
<line x1="1582.9" y1="603.5" x2="1582.9" y2="611.0" stroke="#000" stroke-width="3.4" stroke-linecap="butt"/>
<circle cx="1582.9" cy="611.0" r="1.70" fill="#000"/>
<line x1="1649.6" y1="603.5" x2="1649.6" y2="617.3" stroke="#000" stroke-width="3.4" stroke-linecap="butt"/>
<circle cx="1649.6" cy="617.3" r="1.70" fill="#000"/>
<line x1="1716.2" y1="603.5" x2="1716.2" y2="611.0" stroke="#000" stroke-width="3.4" stroke-linecap="butt"/>
<circle cx="1716.2" cy="611.0" r="1.70" fill="#000"/>
</g>
<clipPath id="clipb"><rect x="1116.3" y="60" width="667.2" height="560"/></clipPath>
<g clip-path="url(#clipb)">
<g fill="none" stroke="#008000" stroke-linejoin="round" stroke-linecap="round">
<path d="M1116.0 467.9 L1116.7 465.0 L1117.4 467.6 L1118.1 469.1 L1118.8 470.0 L1119.5 474.0 L1120.2 474.6 L1120.9 475.9 L1121.6 476.9 L1122.3 478.2 L1123.0 477.2 L1123.7 477.5 L1124.4 474.9 L1125.1 475.0 L1125.8 475.3 L1126.5 474.5 L1127.2 472.4 L1127.9 474.0 L1128.6 472.7 L1129.3 473.4 L1130.0 473.1 L1130.7 473.9 L1131.4 472.7 L1132.1 470.6 L1132.8 470.9 L1133.5 472.9 L1134.2 471.8 L1134.9 473.0 L1135.6 472.1 L1136.3 471.0 L1137.0 472.7 L1137.7 470.8 L1138.4 469.5 L1139.1 473.5 L1139.8 469.5 L1140.5 471.9 L1141.2 472.2 L1141.9 471.3 L1142.6 469.5 L1143.3 472.1 L1144.0 469.6 L1144.7 469.7 L1145.4 470.6 L1146.1 471.7 L1146.8 471.1 L1147.5 471.6 L1148.2 470.3 L1148.9 470.5 L1149.6 469.6 L1150.3 470.3 L1151.0 471.2 L1151.7 470.3 L1152.4 471.0 L1153.1 470.0 L1153.8 469.9 L1154.5 470.5 L1155.2 470.3 L1155.9 471.0 L1156.6 470.6 L1157.3 472.1 L1158.0 470.2 L1158.7 470.2 L1159.4 469.4 L1160.1 470.4 L1160.8 471.1 L1161.5 469.7 L1162.2 470.4 L1162.9 471.1 L1163.6 470.3 L1164.3 469.9 L1165.0 471.3 L1165.7 470.5 L1166.4 470.8 L1167.1 471.5 L1167.8 471.5 L1168.5 470.1 L1169.2 469.9 L1169.9 470.7 L1170.6 470.3 L1171.3 468.6" stroke-width="7.4"/>
<path d="M1171.3 468.6 L1172.0 471.6 L1172.7 470.4 L1173.4 471.1 L1174.1 469.3 L1174.8 471.6 L1175.5 469.8 L1176.2 470.3 L1176.9 469.1 L1177.6 470.2 L1178.3 470.2 L1179.0 470.2 L1179.7 470.8 L1180.4 470.5 L1181.1 471.3 L1181.8 470.0 L1182.5 469.5 L1183.2 470.4 L1183.9 471.0 L1184.6 471.6 L1185.3 471.2 L1186.0 468.7 L1186.7 470.8 L1187.4 471.8 L1188.1 470.5 L1188.8 469.9 L1189.5 470.7 L1190.2 469.9 L1190.9 471.0 L1191.6 470.4 L1192.3 471.7 L1193.0 470.9 L1193.7 469.8 L1194.4 471.0 L1195.1 471.4 L1195.8 470.0 L1196.5 470.2 L1197.2 468.5 L1197.9 471.6 L1198.6 470.3 L1199.3 468.9 L1200.0 469.4 L1200.7 470.9 L1201.4 471.9 L1202.1 471.2 L1202.8 471.8 L1203.5 470.5 L1204.2 470.4 L1204.9 472.6 L1205.6 472.3 L1206.3 472.0 L1207.0 473.3 L1207.7 471.4 L1208.4 472.0 L1209.1 473.4 L1209.8 474.3 L1210.5 472.7 L1211.2 474.4 L1211.9 472.4 L1212.6 473.4 L1213.3 473.0 L1214.0 471.8 L1214.7 473.6 L1215.4 474.3 L1216.1 473.4 L1216.8 473.6 L1217.5 475.0 L1218.2 472.7 L1218.9 472.5 L1219.6 473.4 L1220.3 473.0 L1221.0 475.4 L1221.7 474.5 L1222.4 473.6 L1223.1 473.9 L1223.8 477.1 L1224.5 474.1 L1225.2 474.0 L1225.9 475.1 L1226.6 475.5 L1227.3 475.2" stroke-width="6.3"/>
<path d="M1227.3 475.2 L1228.0 474.3 L1228.7 474.1 L1229.4 475.8 L1230.1 475.3 L1230.8 474.0 L1231.5 476.6 L1232.2 476.3 L1232.9 475.4 L1233.6 475.5 L1234.3 476.0 L1235.0 475.2 L1235.7 474.7 L1236.4 476.3 L1237.1 474.7 L1237.8 476.4 L1238.5 474.8 L1239.2 476.0 L1239.9 476.0 L1240.6 477.8 L1241.3 475.2 L1242.0 474.9 L1242.7 475.6 L1243.4 475.2 L1244.1 475.7 L1244.8 476.6 L1245.5 476.9 L1246.2 477.7 L1246.9 475.5 L1247.6 478.5 L1248.3 477.9 L1249.0 476.0 L1249.7 474.2 L1250.4 476.1 L1251.1 476.3 L1251.8 474.2 L1252.5 476.3 L1253.2 476.0 L1253.9 475.5 L1254.6 476.7 L1255.3 477.1 L1256.0 475.8 L1256.7 476.4 L1257.4 475.6 L1258.1 475.5 L1258.8 476.3 L1259.5 476.7 L1260.2 475.7 L1260.9 474.3 L1261.6 476.7 L1262.3 474.8 L1263.0 476.3 L1263.7 477.7 L1264.4 476.2 L1265.1 475.2 L1265.8 474.9 L1266.5 477.2 L1267.2 476.2 L1267.9 476.7 L1268.6 477.0 L1269.3 476.2 L1270.0 475.9 L1270.7 475.4 L1271.4 473.5 L1272.1 474.9 L1272.8 476.1 L1273.5 476.0 L1274.2 476.5 L1274.9 476.1 L1275.6 476.3 L1276.3 477.0 L1277.0 475.7 L1277.7 476.3 L1278.4 475.5 L1279.1 477.9 L1279.8 477.4 L1280.5 478.1 L1281.2 479.3 L1281.9 479.2 L1282.6 478.4" stroke-width="5.7"/>
<path d="M1282.6 478.4 L1283.3 479.2 L1284.0 477.5 L1284.7 479.0 L1285.4 478.7 L1286.1 477.1 L1286.8 479.5 L1287.5 477.6 L1288.2 478.6 L1288.9 477.4 L1289.6 478.4 L1290.3 478.4 L1291.0 476.4 L1291.7 475.6 L1292.4 476.6 L1293.1 477.3 L1293.8 476.1 L1294.5 475.8 L1295.2 476.7 L1295.9 473.9 L1296.6 475.7 L1297.3 475.1 L1298.0 476.5 L1298.7 475.7 L1299.4 475.4 L1300.1 476.1 L1300.8 475.2 L1301.5 476.5 L1302.2 476.0 L1302.9 476.4 L1303.6 476.2 L1304.3 477.6 L1305.0 476.9 L1305.7 477.5 L1306.4 477.6 L1307.1 476.6 L1307.8 477.9 L1308.5 477.8 L1309.2 477.9 L1309.9 477.4 L1310.6 477.5 L1311.3 478.6 L1312.0 479.8 L1312.7 477.4 L1313.4 478.7 L1314.1 478.0 L1314.8 479.0 L1315.5 478.8 L1316.2 479.4 L1316.9 476.3 L1317.6 478.2 L1318.3 478.0 L1319.0 478.7 L1319.7 478.3 L1320.4 478.4 L1321.1 479.5 L1321.8 480.6 L1322.5 476.8 L1323.2 478.9 L1323.9 479.5 L1324.6 479.3 L1325.3 479.0 L1326.0 478.3 L1326.7 478.6 L1327.4 480.0 L1328.1 480.4 L1328.8 479.6 L1329.5 478.9 L1330.2 479.7 L1330.9 479.5 L1331.6 480.2 L1332.3 479.9 L1333.0 479.3 L1333.7 480.0 L1334.4 479.0 L1335.1 480.6 L1335.8 480.9 L1336.5 479.1 L1337.2 480.4 L1337.9 479.3 L1338.6 481.0" stroke-width="5.4"/>
<path d="M1338.6 481.0 L1339.3 480.9 L1340.0 480.1 L1340.7 481.1 L1341.4 480.0 L1342.1 479.9 L1342.8 480.0 L1343.5 480.3 L1344.2 480.2 L1344.9 480.6 L1345.6 480.1 L1346.3 481.2 L1347.0 481.4 L1347.7 480.3 L1348.4 479.6 L1349.1 481.3 L1349.8 481.7 L1350.5 480.7 L1351.2 479.8 L1351.9 481.1 L1352.6 482.1 L1353.3 479.5 L1354.0 481.4 L1354.7 480.8 L1355.4 480.4 L1356.1 481.5 L1356.8 480.1 L1357.5 481.4 L1358.2 482.2 L1358.9 481.4 L1359.6 480.6 L1360.3 479.9 L1361.0 480.3 L1361.7 479.9 L1362.4 482.6 L1363.1 481.2 L1363.8 480.6 L1364.5 480.5 L1365.2 480.7 L1365.9 481.3 L1366.6 480.6 L1367.3 482.9 L1368.0 481.0 L1368.7 481.0 L1369.4 481.9 L1370.1 482.8 L1370.8 482.7 L1371.5 481.4 L1372.2 481.9 L1372.9 481.9 L1373.6 482.2 L1374.3 482.0 L1375.0 481.1 L1375.7 480.9 L1376.4 482.0 L1377.1 481.0 L1377.8 483.0 L1378.5 482.0 L1379.2 481.2 L1379.9 481.7 L1380.6 481.6 L1381.3 481.9 L1382.0 482.8 L1382.7 481.0 L1383.4 480.7 L1384.1 482.4 L1384.8 482.0 L1385.5 482.3 L1386.2 482.5 L1386.9 482.0 L1387.6 482.8 L1388.3 481.6 L1389.0 482.3 L1389.7 481.6 L1390.4 481.5 L1391.1 482.8 L1391.8 482.8 L1392.5 480.9 L1393.2 481.6 L1393.9 482.7" stroke-width="5.2"/>
<path d="M1393.9 482.7 L1394.6 483.3 L1395.3 482.0 L1396.0 482.4 L1396.7 481.5 L1397.4 484.5 L1398.1 483.0 L1398.8 483.4 L1399.5 483.3 L1400.2 483.5 L1400.9 483.3 L1401.6 482.7 L1402.3 483.5 L1403.0 483.1 L1403.7 484.0 L1404.4 482.6 L1405.1 482.8 L1405.8 483.7 L1406.5 484.2 L1407.2 483.5 L1407.9 482.9 L1408.6 483.4 L1409.3 483.1 L1410.0 485.0 L1410.7 484.3 L1411.4 484.6 L1412.1 483.9 L1412.8 483.3 L1413.5 484.7 L1414.2 485.0 L1414.9 484.3 L1415.6 483.9 L1416.3 484.7 L1417.0 483.7 L1417.7 484.6 L1418.4 483.5 L1419.1 483.4 L1419.8 484.5 L1420.5 484.4 L1421.2 485.5 L1421.9 483.9 L1422.6 484.2 L1423.3 483.4 L1424.0 482.9 L1424.7 482.9 L1425.4 484.6 L1426.1 483.4 L1426.8 485.1 L1427.5 485.3 L1428.2 484.1 L1428.9 485.5 L1429.6 484.5 L1430.3 485.2 L1431.0 484.2 L1431.7 485.1 L1432.4 483.7 L1433.1 484.8 L1433.8 484.1 L1434.5 484.3 L1435.2 484.9 L1435.9 484.6 L1436.6 484.4 L1437.3 485.0 L1438.0 485.0 L1438.7 483.5 L1439.4 484.9 L1440.1 485.0 L1440.8 484.0 L1441.5 484.8 L1442.2 483.6 L1442.9 485.6 L1443.6 484.4 L1444.3 484.5 L1445.0 485.4 L1445.7 484.5 L1446.4 485.0 L1447.1 483.9 L1447.8 484.2 L1448.5 483.7 L1449.2 484.5 L1449.9 485.4" stroke-width="5.1"/>
<path d="M1449.9 485.4 L1450.6 484.8 L1451.3 485.3 L1452.0 484.0 L1452.7 484.1 L1453.4 484.4 L1454.1 485.1 L1454.8 485.0 L1455.5 484.7 L1456.2 485.2 L1456.9 484.7 L1457.6 484.8 L1458.3 485.7 L1459.0 484.4 L1459.7 484.9 L1460.4 485.9 L1461.1 484.9 L1461.8 485.3 L1462.5 484.5 L1463.2 486.2 L1463.9 483.3 L1464.6 484.1 L1465.3 484.2 L1466.0 486.0 L1466.7 485.2 L1467.4 484.8 L1468.1 484.1 L1468.8 485.2 L1469.5 485.1 L1470.2 484.5 L1470.9 484.0 L1471.6 484.3 L1472.3 485.2 L1473.0 485.2 L1473.7 485.1 L1474.4 484.9 L1475.1 483.9 L1475.8 485.1 L1476.5 484.4 L1477.2 485.1 L1477.9 485.4 L1478.6 484.7 L1479.3 484.4 L1480.0 485.8 L1480.7 485.4 L1481.4 484.7 L1482.1 483.1 L1482.8 485.1 L1483.5 485.6 L1484.2 485.9 L1484.9 484.7 L1485.6 484.8 L1486.3 484.9 L1487.0 485.8 L1487.7 484.5 L1488.4 485.2 L1489.1 484.6 L1489.8 485.4 L1490.5 484.3 L1491.2 485.5 L1491.9 485.0 L1492.6 485.2 L1493.3 485.7 L1494.0 486.1 L1494.7 484.2 L1495.4 486.0 L1496.1 485.8 L1496.8 485.2 L1497.5 486.3 L1498.2 485.6 L1498.9 486.3 L1499.6 485.1 L1500.3 484.9 L1501.0 486.3 L1501.7 486.9 L1502.4 485.9 L1503.1 486.1 L1503.8 485.3 L1504.5 484.7 L1505.2 485.4 L1505.9 486.6" stroke-width="5.1"/>
<path d="M1505.9 486.6 L1506.6 484.4 L1507.3 485.3 L1508.0 484.4 L1508.7 485.8 L1509.4 486.3 L1510.1 484.9 L1510.8 485.5 L1511.5 486.6 L1512.2 485.8 L1512.9 485.0 L1513.6 485.0 L1514.3 484.6 L1515.0 486.4 L1515.7 485.5 L1516.4 486.6 L1517.1 486.6 L1517.8 485.6 L1518.5 485.8 L1519.2 486.7 L1519.9 486.3 L1520.6 486.5 L1521.3 485.4 L1522.0 487.1 L1522.7 486.1 L1523.4 485.4 L1524.1 486.5 L1524.8 487.3 L1525.5 488.5 L1526.2 487.1 L1526.9 486.6 L1527.6 488.9 L1528.3 487.8 L1529.0 487.6 L1529.7 487.2 L1530.4 487.3 L1531.1 489.0 L1531.8 487.9 L1532.5 487.8 L1533.2 487.9 L1533.9 489.2 L1534.6 487.8 L1535.3 488.6 L1536.0 488.4 L1536.7 488.3 L1537.4 487.7 L1538.1 488.6 L1538.8 489.2 L1539.5 488.2 L1540.2 487.6 L1540.9 487.4 L1541.6 488.3 L1542.3 488.0 L1543.0 488.1 L1543.7 488.2 L1544.4 487.3 L1545.1 488.7 L1545.8 488.3 L1546.5 488.2 L1547.2 488.3 L1547.9 488.8 L1548.6 488.2 L1549.3 487.7 L1550.0 488.9 L1550.7 487.9 L1551.4 487.8 L1552.1 487.3 L1552.8 488.2 L1553.5 487.6 L1554.2 487.9 L1554.9 488.5 L1555.6 488.2 L1556.3 488.8 L1557.0 488.4 L1557.7 488.0 L1558.4 488.0 L1559.1 487.9 L1559.8 488.6 L1560.5 488.2 L1561.2 488.0" stroke-width="5.0"/>
<path d="M1561.2 488.0 L1561.9 488.7 L1562.6 488.3 L1563.3 487.9 L1564.0 487.3 L1564.7 488.5 L1565.4 488.3 L1566.1 488.2 L1566.8 487.9 L1567.5 487.7 L1568.2 488.1 L1568.9 488.4 L1569.6 488.2 L1570.3 488.3 L1571.0 488.2 L1571.7 488.7 L1572.4 488.8 L1573.1 488.3 L1573.8 489.3 L1574.5 489.4 L1575.2 489.6 L1575.9 489.2 L1576.6 489.2 L1577.3 488.8 L1578.0 490.0 L1578.7 488.5 L1579.4 489.6 L1580.1 489.7 L1580.8 490.5 L1581.5 490.1 L1582.2 489.6 L1582.9 489.3 L1583.6 489.8 L1584.3 490.3 L1585.0 490.2 L1585.7 490.1 L1586.4 489.8 L1587.1 490.1 L1587.8 490.7 L1588.5 489.5 L1589.2 490.2 L1589.9 491.0 L1590.6 490.4 L1591.3 489.8 L1592.0 490.4 L1592.7 489.6 L1593.4 490.0 L1594.1 490.9 L1594.8 491.0 L1595.5 488.9 L1596.2 490.3 L1596.9 491.0 L1597.6 489.5 L1598.3 489.9 L1599.0 490.6 L1599.7 489.4 L1600.4 489.9 L1601.1 489.6 L1601.8 488.5 L1602.5 489.8 L1603.2 489.5 L1603.9 490.0 L1604.6 490.7 L1605.3 489.8 L1606.0 489.2 L1606.7 489.7 L1607.4 489.5 L1608.1 489.9 L1608.8 488.5 L1609.5 488.6 L1610.2 488.1 L1610.9 489.6 L1611.6 489.2 L1612.3 488.8 L1613.0 488.7 L1613.7 488.8 L1614.4 488.6 L1615.1 488.9 L1615.8 488.7 L1616.5 489.7 L1617.2 489.1" stroke-width="5.0"/>
<path d="M1617.2 489.1 L1617.9 488.4 L1618.6 488.5 L1619.3 489.5 L1620.0 489.0 L1620.7 488.9 L1621.4 489.1 L1622.1 489.5 L1622.8 488.0 L1623.5 488.2 L1624.2 487.6 L1624.9 488.8 L1625.6 488.3 L1626.3 488.1 L1627.0 488.0 L1627.7 488.8 L1628.4 488.3 L1629.1 488.1 L1629.8 489.0 L1630.5 487.8 L1631.2 487.6 L1631.9 489.7 L1632.6 488.1 L1633.3 488.0 L1634.0 487.8 L1634.7 488.2 L1635.4 488.6 L1636.1 488.6 L1636.8 488.5 L1637.5 488.1 L1638.2 487.4 L1638.9 488.4 L1639.6 489.0 L1640.3 488.8 L1641.0 488.2 L1641.7 488.7 L1642.4 488.2 L1643.1 488.4 L1643.8 487.8 L1644.5 488.3 L1645.2 488.6 L1645.9 488.5 L1646.6 489.1 L1647.3 489.7 L1648.0 489.5 L1648.7 488.7 L1649.4 488.6 L1650.1 488.7 L1650.8 488.6 L1651.5 489.2 L1652.2 489.5 L1652.9 489.4 L1653.6 489.5 L1654.3 489.6 L1655.0 489.5 L1655.7 489.3 L1656.4 490.6 L1657.1 490.3 L1657.8 489.4 L1658.5 489.4 L1659.2 489.6 L1659.9 490.0 L1660.6 490.7 L1661.3 490.6 L1662.0 490.7 L1662.7 490.7 L1663.4 490.8 L1664.1 490.6 L1664.8 490.5 L1665.5 490.2 L1666.2 489.4 L1666.9 490.3 L1667.6 491.3 L1668.3 490.2 L1669.0 490.2 L1669.7 491.0 L1670.4 490.6 L1671.1 490.4 L1671.8 491.4 L1672.5 491.0" stroke-width="5.0"/>
<path d="M1672.5 491.0 L1673.2 491.2 L1673.9 490.6 L1674.6 491.2 L1675.3 491.3 L1676.0 491.6 L1676.7 492.0 L1677.4 492.1 L1678.1 491.9 L1678.8 492.3 L1679.5 491.6 L1680.2 492.7 L1680.9 492.9 L1681.6 492.6 L1682.3 492.6 L1683.0 493.1 L1683.7 492.7 L1684.4 493.6 L1685.1 493.7 L1685.8 493.2 L1686.5 493.7 L1687.2 494.2 L1687.9 494.2 L1688.6 494.2 L1689.3 493.6 L1690.0 493.5 L1690.7 493.4 L1691.4 493.8 L1692.1 494.6 L1692.8 494.1 L1693.5 494.2 L1694.2 494.0 L1694.9 492.6 L1695.6 493.2 L1696.3 493.0 L1697.0 493.8 L1697.7 494.0 L1698.4 492.8 L1699.1 493.1 L1699.8 493.4 L1700.5 492.9 L1701.2 492.8 L1701.9 492.8 L1702.6 493.7 L1703.3 492.9 L1704.0 494.0 L1704.7 493.6 L1705.4 494.1 L1706.1 494.6 L1706.8 493.7 L1707.5 493.8 L1708.2 494.5 L1708.9 494.0 L1709.6 494.4 L1710.3 494.8 L1711.0 495.1 L1711.7 494.6 L1712.4 495.1 L1713.1 495.7 L1713.8 496.2 L1714.5 494.7 L1715.2 496.3 L1715.9 496.2 L1716.6 495.3 L1717.3 495.1 L1718.0 496.0 L1718.7 495.6 L1719.4 495.8 L1720.1 496.2 L1720.8 495.6 L1721.5 495.8 L1722.2 495.9 L1722.9 496.1 L1723.6 496.5 L1724.3 496.4 L1725.0 495.7 L1725.7 495.5 L1726.4 496.6 L1727.1 495.8 L1727.8 495.7 L1728.5 495.0" stroke-width="5.0"/>
<path d="M1728.5 495.0 L1729.2 495.8 L1729.9 495.1 L1730.6 495.2 L1731.3 494.8 L1732.0 495.2 L1732.7 495.4 L1733.4 494.7 L1734.1 495.0 L1734.8 495.4 L1735.5 494.9 L1736.2 494.9 L1736.9 495.1 L1737.6 494.9 L1738.3 495.8 L1739.0 495.1 L1739.7 495.9 L1740.4 496.0 L1741.1 495.1 L1741.8 495.7 L1742.5 495.6 L1743.2 495.3 L1743.9 495.7 L1744.6 495.8 L1745.3 496.3 L1746.0 496.5 L1746.7 495.6 L1747.4 496.0 L1748.1 496.4 L1748.8 496.8 L1749.5 495.3 L1750.2 496.9 L1750.9 496.4 L1751.6 497.2 L1752.3 496.4 L1753.0 496.2 L1753.7 496.7 L1754.4 497.2 L1755.1 496.7 L1755.8 495.8 L1756.5 497.1 L1757.2 496.2 L1757.9 496.5 L1758.6 496.4 L1759.3 496.2 L1760.0 496.5 L1760.7 496.6 L1761.4 496.8 L1762.1 497.1 L1762.8 497.0 L1763.5 496.6 L1764.2 497.2 L1764.9 497.7 L1765.6 497.7 L1766.3 497.4 L1767.0 497.7 L1767.7 497.8 L1768.4 498.0 L1769.1 498.2 L1769.8 497.4 L1770.5 497.5 L1771.2 498.2 L1771.9 498.3 L1772.6 498.3 L1773.3 496.8 L1774.0 497.7 L1774.7 496.5 L1775.4 498.1 L1776.1 497.9 L1776.8 497.9 L1777.5 497.9 L1778.2 498.5 L1778.9 497.9 L1779.6 498.4 L1780.3 498.3 L1781.0 498.2 L1781.7 498.3 L1782.4 498.2 L1783.1 497.7 L1783.8 498.5" stroke-width="5.0"/>
</g>
<g fill="none" stroke="#800080" stroke-linejoin="round" stroke-linecap="round">
<path d="M1116.0 399.0 L1116.7 400.5 L1117.4 403.2 L1118.1 405.5 L1118.8 406.7 L1119.5 410.2 L1120.2 412.4 L1120.9 413.5 L1121.6 415.8 L1122.3 416.2 L1123.0 417.5 L1123.7 419.0 L1124.4 420.0 L1125.1 420.9 L1125.8 423.1 L1126.5 421.9 L1127.2 423.2 L1127.9 422.9 L1128.6 424.7 L1129.3 425.8 L1130.0 426.4 L1130.7 425.6 L1131.4 426.4 L1132.1 428.0 L1132.8 427.5 L1133.5 428.7 L1134.2 427.8 L1134.9 429.8 L1135.6 429.9 L1136.3 429.9 L1137.0 429.4 L1137.7 430.3 L1138.4 430.8 L1139.1 431.2 L1139.8 431.3 L1140.5 431.5 L1141.2 432.1 L1141.9 433.2 L1142.6 431.2 L1143.3 431.9 L1144.0 432.1 L1144.7 432.9 L1145.4 432.5 L1146.1 434.3 L1146.8 434.2 L1147.5 434.2 L1148.2 434.2 L1148.9 435.0 L1149.6 435.2 L1150.3 435.5 L1151.0 435.0 L1151.7 436.1 L1152.4 434.9 L1153.1 436.9 L1153.8 434.3 L1154.5 436.1 L1155.2 435.9 L1155.9 437.4 L1156.6 436.1 L1157.3 438.5 L1158.0 436.5 L1158.7 439.1 L1159.4 438.3 L1160.1 438.2 L1160.8 438.8 L1161.5 440.2 L1162.2 439.6 L1162.9 437.8 L1163.6 440.4 L1164.3 440.0 L1165.0 439.1 L1165.7 441.0 L1166.4 439.9 L1167.1 441.1 L1167.8 441.4 L1168.5 441.1 L1169.2 442.1 L1169.9 441.2 L1170.6 442.2 L1171.3 441.8" stroke-width="7.2"/>
<path d="M1171.3 441.8 L1172.0 442.2 L1172.7 443.6 L1173.4 442.4 L1174.1 441.7 L1174.8 442.3 L1175.5 441.9 L1176.2 442.4 L1176.9 442.5 L1177.6 442.4 L1178.3 442.4 L1179.0 441.9 L1179.7 442.5 L1180.4 442.9 L1181.1 441.8 L1181.8 442.1 L1182.5 442.2 L1183.2 442.9 L1183.9 442.8 L1184.6 441.6 L1185.3 442.1 L1186.0 441.0 L1186.7 441.3 L1187.4 442.0 L1188.1 442.3 L1188.8 442.5 L1189.5 441.7 L1190.2 441.0 L1190.9 442.2 L1191.6 441.8 L1192.3 442.2 L1193.0 442.1 L1193.7 442.5 L1194.4 442.5 L1195.1 442.7 L1195.8 442.0 L1196.5 443.0 L1197.2 442.2 L1197.9 442.7 L1198.6 443.9 L1199.3 443.1 L1200.0 442.3 L1200.7 444.1 L1201.4 443.9 L1202.1 444.1 L1202.8 443.7 L1203.5 443.9 L1204.2 443.7 L1204.9 443.5 L1205.6 445.1 L1206.3 444.0 L1207.0 444.1 L1207.7 444.2 L1208.4 445.8 L1209.1 445.3 L1209.8 444.7 L1210.5 445.0 L1211.2 445.5 L1211.9 445.9 L1212.6 444.5 L1213.3 446.2 L1214.0 445.7 L1214.7 445.6 L1215.4 445.9 L1216.1 446.8 L1216.8 447.6 L1217.5 446.8 L1218.2 447.2 L1218.9 446.5 L1219.6 447.5 L1220.3 447.9 L1221.0 446.7 L1221.7 447.5 L1222.4 448.4 L1223.1 447.1 L1223.8 448.1 L1224.5 448.9 L1225.2 447.7 L1225.9 448.7 L1226.6 449.2 L1227.3 449.9" stroke-width="6.0"/>
<path d="M1227.3 449.9 L1228.0 448.8 L1228.7 450.4 L1229.4 450.2 L1230.1 450.9 L1230.8 451.1 L1231.5 450.8 L1232.2 451.1 L1232.9 450.0 L1233.6 450.5 L1234.3 451.0 L1235.0 451.6 L1235.7 452.7 L1236.4 451.3 L1237.1 452.5 L1237.8 452.1 L1238.5 452.3 L1239.2 454.4 L1239.9 453.8 L1240.6 455.0 L1241.3 455.0 L1242.0 454.1 L1242.7 453.8 L1243.4 456.4 L1244.1 455.2 L1244.8 455.1 L1245.5 456.4 L1246.2 456.3 L1246.9 456.1 L1247.6 456.6 L1248.3 457.1 L1249.0 457.3 L1249.7 457.9 L1250.4 457.5 L1251.1 457.8 L1251.8 458.5 L1252.5 458.6 L1253.2 459.2 L1253.9 458.7 L1254.6 458.9 L1255.3 458.5 L1256.0 460.3 L1256.7 458.8 L1257.4 459.9 L1258.1 459.5 L1258.8 460.4 L1259.5 460.8 L1260.2 459.6 L1260.9 460.6 L1261.6 459.9 L1262.3 461.9 L1263.0 461.0 L1263.7 460.5 L1264.4 461.2 L1265.1 462.5 L1265.8 462.8 L1266.5 462.9 L1267.2 461.9 L1267.9 462.4 L1268.6 463.6 L1269.3 462.4 L1270.0 462.8 L1270.7 462.7 L1271.4 462.7 L1272.1 464.2 L1272.8 464.1 L1273.5 464.2 L1274.2 464.4 L1274.9 464.9 L1275.6 465.3 L1276.3 464.7 L1277.0 464.7 L1277.7 464.5 L1278.4 465.8 L1279.1 465.1 L1279.8 464.8 L1280.5 465.6 L1281.2 466.0 L1281.9 466.6 L1282.6 466.9" stroke-width="5.3"/>
<path d="M1282.6 466.9 L1283.3 466.2 L1284.0 466.3 L1284.7 466.8 L1285.4 466.5 L1286.1 467.3 L1286.8 467.8 L1287.5 467.7 L1288.2 467.0 L1288.9 467.4 L1289.6 469.0 L1290.3 467.9 L1291.0 469.0 L1291.7 469.2 L1292.4 468.8 L1293.1 468.7 L1293.8 469.5 L1294.5 469.1 L1295.2 469.7 L1295.9 470.0 L1296.6 469.7 L1297.3 470.2 L1298.0 470.3 L1298.7 470.0 L1299.4 470.7 L1300.1 470.7 L1300.8 470.2 L1301.5 471.2 L1302.2 471.4 L1302.9 471.4 L1303.6 470.8 L1304.3 472.5 L1305.0 472.6 L1305.7 472.7 L1306.4 472.7 L1307.1 472.1 L1307.8 473.0 L1308.5 472.6 L1309.2 474.4 L1309.9 473.1 L1310.6 473.9 L1311.3 472.9 L1312.0 473.3 L1312.7 473.8 L1313.4 474.6 L1314.1 474.7 L1314.8 474.7 L1315.5 473.7 L1316.2 475.5 L1316.9 474.5 L1317.6 476.0 L1318.3 476.3 L1319.0 475.9 L1319.7 476.2 L1320.4 475.2 L1321.1 477.3 L1321.8 476.3 L1322.5 476.8 L1323.2 476.0 L1323.9 476.6 L1324.6 476.2 L1325.3 476.8 L1326.0 477.1 L1326.7 477.4 L1327.4 478.2 L1328.1 477.9 L1328.8 477.9 L1329.5 477.9 L1330.2 479.1 L1330.9 478.0 L1331.6 479.0 L1332.3 477.6 L1333.0 478.3 L1333.7 479.1 L1334.4 479.0 L1335.1 480.7 L1335.8 480.7 L1336.5 478.7 L1337.2 479.1 L1337.9 479.8 L1338.6 480.9" stroke-width="4.9"/>
<path d="M1338.6 480.9 L1339.3 480.7 L1340.0 480.5 L1340.7 479.8 L1341.4 480.2 L1342.1 479.4 L1342.8 480.2 L1343.5 481.3 L1344.2 481.7 L1344.9 480.8 L1345.6 481.7 L1346.3 482.6 L1347.0 482.0 L1347.7 481.9 L1348.4 482.6 L1349.1 482.7 L1349.8 482.6 L1350.5 482.5 L1351.2 482.7 L1351.9 483.2 L1352.6 483.0 L1353.3 484.2 L1354.0 484.1 L1354.7 484.4 L1355.4 485.1 L1356.1 485.0 L1356.8 485.2 L1357.5 484.8 L1358.2 484.8 L1358.9 486.2 L1359.6 484.9 L1360.3 485.2 L1361.0 485.2 L1361.7 486.0 L1362.4 486.3 L1363.1 486.8 L1363.8 486.4 L1364.5 485.8 L1365.2 487.0 L1365.9 487.6 L1366.6 487.3 L1367.3 487.4 L1368.0 487.9 L1368.7 488.5 L1369.4 488.0 L1370.1 487.5 L1370.8 488.1 L1371.5 488.5 L1372.2 487.9 L1372.9 489.3 L1373.6 488.7 L1374.3 489.5 L1375.0 489.4 L1375.7 489.4 L1376.4 490.4 L1377.1 489.5 L1377.8 489.6 L1378.5 490.2 L1379.2 490.5 L1379.9 490.2 L1380.6 489.9 L1381.3 490.8 L1382.0 490.8 L1382.7 491.6 L1383.4 490.6 L1384.1 490.9 L1384.8 490.7 L1385.5 490.3 L1386.2 491.2 L1386.9 491.6 L1387.6 490.8 L1388.3 491.1 L1389.0 490.9 L1389.7 492.2 L1390.4 491.4 L1391.1 492.0 L1391.8 491.5 L1392.5 492.0 L1393.2 491.8 L1393.9 491.1" stroke-width="4.7"/>
<path d="M1393.9 491.1 L1394.6 492.3 L1395.3 492.6 L1396.0 491.5 L1396.7 492.5 L1397.4 492.5 L1398.1 492.3 L1398.8 492.9 L1399.5 492.2 L1400.2 493.4 L1400.9 493.9 L1401.6 493.0 L1402.3 493.7 L1403.0 494.6 L1403.7 494.2 L1404.4 494.1 L1405.1 494.1 L1405.8 494.8 L1406.5 494.9 L1407.2 495.5 L1407.9 494.7 L1408.6 496.1 L1409.3 495.7 L1410.0 496.4 L1410.7 496.0 L1411.4 496.0 L1412.1 496.6 L1412.8 496.7 L1413.5 497.2 L1414.2 497.9 L1414.9 498.3 L1415.6 498.2 L1416.3 498.1 L1417.0 498.4 L1417.7 499.1 L1418.4 499.6 L1419.1 499.2 L1419.8 499.5 L1420.5 499.4 L1421.2 500.0 L1421.9 500.6 L1422.6 499.1 L1423.3 500.7 L1424.0 500.5 L1424.7 499.9 L1425.4 501.2 L1426.1 501.2 L1426.8 501.5 L1427.5 500.9 L1428.2 502.6 L1428.9 501.9 L1429.6 501.8 L1430.3 502.8 L1431.0 502.5 L1431.7 502.7 L1432.4 503.0 L1433.1 501.8 L1433.8 503.5 L1434.5 502.8 L1435.2 503.2 L1435.9 503.6 L1436.6 503.0 L1437.3 503.6 L1438.0 503.9 L1438.7 503.7 L1439.4 504.0 L1440.1 503.2 L1440.8 503.5 L1441.5 503.7 L1442.2 504.4 L1442.9 505.9 L1443.6 504.6 L1444.3 504.5 L1445.0 504.7 L1445.7 505.2 L1446.4 505.2 L1447.1 504.6 L1447.8 505.6 L1448.5 505.3 L1449.2 505.7 L1449.9 504.7" stroke-width="4.6"/>
<path d="M1449.9 504.7 L1450.6 505.0 L1451.3 506.0 L1452.0 505.1 L1452.7 506.1 L1453.4 506.2 L1454.1 506.2 L1454.8 506.4 L1455.5 506.5 L1456.2 506.7 L1456.9 506.5 L1457.6 506.7 L1458.3 508.0 L1459.0 507.4 L1459.7 507.3 L1460.4 507.4 L1461.1 507.0 L1461.8 507.5 L1462.5 507.5 L1463.2 508.0 L1463.9 507.4 L1464.6 507.0 L1465.3 507.8 L1466.0 508.4 L1466.7 509.2 L1467.4 508.8 L1468.1 508.1 L1468.8 508.5 L1469.5 508.3 L1470.2 508.8 L1470.9 508.6 L1471.6 508.4 L1472.3 509.3 L1473.0 509.4 L1473.7 509.3 L1474.4 509.7 L1475.1 510.4 L1475.8 509.8 L1476.5 509.7 L1477.2 510.3 L1477.9 509.5 L1478.6 510.5 L1479.3 510.0 L1480.0 510.1 L1480.7 510.6 L1481.4 511.3 L1482.1 510.5 L1482.8 511.2 L1483.5 511.1 L1484.2 510.6 L1484.9 511.6 L1485.6 511.0 L1486.3 510.9 L1487.0 511.2 L1487.7 511.4 L1488.4 512.0 L1489.1 511.6 L1489.8 512.5 L1490.5 512.2 L1491.2 511.9 L1491.9 512.0 L1492.6 512.5 L1493.3 511.8 L1494.0 511.8 L1494.7 512.4 L1495.4 513.1 L1496.1 513.0 L1496.8 513.1 L1497.5 513.1 L1498.2 512.5 L1498.9 513.3 L1499.6 512.8 L1500.3 513.9 L1501.0 513.7 L1501.7 513.8 L1502.4 514.0 L1503.1 514.1 L1503.8 514.2 L1504.5 514.3 L1505.2 514.1 L1505.9 513.9" stroke-width="4.6"/>
<path d="M1505.9 513.9 L1506.6 514.6 L1507.3 515.1 L1508.0 515.1 L1508.7 514.8 L1509.4 515.2 L1510.1 514.9 L1510.8 515.3 L1511.5 515.0 L1512.2 515.4 L1512.9 516.2 L1513.6 515.8 L1514.3 516.2 L1515.0 515.5 L1515.7 515.6 L1516.4 515.9 L1517.1 516.2 L1517.8 516.1 L1518.5 516.6 L1519.2 516.2 L1519.9 516.9 L1520.6 516.9 L1521.3 516.3 L1522.0 517.0 L1522.7 516.8 L1523.4 517.3 L1524.1 516.9 L1524.8 517.2 L1525.5 517.4 L1526.2 516.4 L1526.9 516.8 L1527.6 517.6 L1528.3 517.6 L1529.0 518.1 L1529.7 517.9 L1530.4 517.5 L1531.1 518.1 L1531.8 517.9 L1532.5 518.1 L1533.2 518.1 L1533.9 518.5 L1534.6 518.0 L1535.3 518.2 L1536.0 517.9 L1536.7 519.5 L1537.4 518.5 L1538.1 518.7 L1538.8 518.7 L1539.5 518.9 L1540.2 519.1 L1540.9 519.5 L1541.6 519.5 L1542.3 519.6 L1543.0 519.4 L1543.7 519.7 L1544.4 520.2 L1545.1 519.9 L1545.8 520.1 L1546.5 519.4 L1547.2 520.3 L1547.9 520.3 L1548.6 520.7 L1549.3 519.5 L1550.0 520.5 L1550.7 520.5 L1551.4 520.7 L1552.1 520.5 L1552.8 520.9 L1553.5 521.1 L1554.2 521.0 L1554.9 521.0 L1555.6 521.1 L1556.3 521.1 L1557.0 521.4 L1557.7 521.2 L1558.4 520.9 L1559.1 522.0 L1559.8 521.1 L1560.5 521.7 L1561.2 521.5" stroke-width="4.5"/>
<path d="M1561.2 521.5 L1561.9 521.9 L1562.6 521.7 L1563.3 522.1 L1564.0 521.9 L1564.7 521.9 L1565.4 522.5 L1566.1 522.9 L1566.8 522.6 L1567.5 522.6 L1568.2 522.4 L1568.9 522.8 L1569.6 523.0 L1570.3 522.7 L1571.0 523.3 L1571.7 523.1 L1572.4 523.3 L1573.1 523.1 L1573.8 523.2 L1574.5 523.5 L1575.2 523.6 L1575.9 523.7 L1576.6 523.4 L1577.3 523.5 L1578.0 523.8 L1578.7 523.3 L1579.4 524.3 L1580.1 524.1 L1580.8 524.1 L1581.5 524.0 L1582.2 524.5 L1582.9 524.3 L1583.6 525.0 L1584.3 524.6 L1585.0 524.1 L1585.7 524.9 L1586.4 524.6 L1587.1 524.7 L1587.8 524.8 L1588.5 524.9 L1589.2 525.1 L1589.9 525.3 L1590.6 525.3 L1591.3 525.0 L1592.0 524.9 L1592.7 525.1 L1593.4 525.5 L1594.1 525.8 L1594.8 526.1 L1595.5 525.3 L1596.2 525.7 L1596.9 525.7 L1597.6 525.7 L1598.3 526.0 L1599.0 525.9 L1599.7 526.0 L1600.4 525.9 L1601.1 526.3 L1601.8 526.5 L1602.5 526.8 L1603.2 526.2 L1603.9 526.2 L1604.6 526.5 L1605.3 526.4 L1606.0 526.9 L1606.7 526.5 L1607.4 526.8 L1608.1 526.5 L1608.8 526.8 L1609.5 527.0 L1610.2 527.5 L1610.9 526.9 L1611.6 527.3 L1612.3 526.7 L1613.0 527.0 L1613.7 527.2 L1614.4 527.3 L1615.1 527.7 L1615.8 527.8 L1616.5 527.2 L1617.2 527.9" stroke-width="4.5"/>
<path d="M1617.2 527.9 L1617.9 527.5 L1618.6 528.4 L1619.3 528.0 L1620.0 528.1 L1620.7 528.1 L1621.4 528.2 L1622.1 528.2 L1622.8 528.1 L1623.5 528.6 L1624.2 528.5 L1624.9 528.7 L1625.6 528.6 L1626.3 528.9 L1627.0 528.6 L1627.7 529.7 L1628.4 528.7 L1629.1 528.9 L1629.8 529.3 L1630.5 529.4 L1631.2 529.0 L1631.9 528.8 L1632.6 529.0 L1633.3 529.2 L1634.0 529.3 L1634.7 529.5 L1635.4 529.9 L1636.1 530.0 L1636.8 529.6 L1637.5 530.0 L1638.2 530.1 L1638.9 530.3 L1639.6 530.0 L1640.3 530.0 L1641.0 530.4 L1641.7 530.7 L1642.4 530.2 L1643.1 530.9 L1643.8 530.9 L1644.5 530.5 L1645.2 530.3 L1645.9 530.6 L1646.6 530.7 L1647.3 531.0 L1648.0 530.5 L1648.7 531.5 L1649.4 531.6 L1650.1 530.9 L1650.8 530.7 L1651.5 531.2 L1652.2 531.4 L1652.9 531.7 L1653.6 531.6 L1654.3 531.4 L1655.0 531.1 L1655.7 531.7 L1656.4 531.9 L1657.1 531.7 L1657.8 531.9 L1658.5 531.9 L1659.2 531.9 L1659.9 531.7 L1660.6 532.1 L1661.3 531.8 L1662.0 532.5 L1662.7 532.0 L1663.4 532.4 L1664.1 532.2 L1664.8 532.5 L1665.5 532.4 L1666.2 532.6 L1666.9 532.4 L1667.6 532.3 L1668.3 532.6 L1669.0 532.7 L1669.7 532.5 L1670.4 532.7 L1671.1 532.6 L1671.8 533.0 L1672.5 532.9" stroke-width="4.5"/>
<path d="M1672.5 532.9 L1673.2 533.1 L1673.9 533.7 L1674.6 533.2 L1675.3 533.3 L1676.0 533.4 L1676.7 533.3 L1677.4 533.3 L1678.1 533.7 L1678.8 533.8 L1679.5 533.0 L1680.2 533.6 L1680.9 533.6 L1681.6 533.6 L1682.3 534.1 L1683.0 533.8 L1683.7 534.1 L1684.4 533.9 L1685.1 534.0 L1685.8 534.2 L1686.5 534.0 L1687.2 534.2 L1687.9 534.0 L1688.6 534.1 L1689.3 534.5 L1690.0 534.5 L1690.7 534.2 L1691.4 534.3 L1692.1 535.1 L1692.8 534.5 L1693.5 534.5 L1694.2 534.8 L1694.9 534.6 L1695.6 534.8 L1696.3 535.1 L1697.0 535.1 L1697.7 535.0 L1698.4 535.3 L1699.1 535.1 L1699.8 535.1 L1700.5 535.2 L1701.2 535.2 L1701.9 535.4 L1702.6 535.4 L1703.3 535.3 L1704.0 535.5 L1704.7 535.4 L1705.4 535.5 L1706.1 535.6 L1706.8 535.9 L1707.5 535.8 L1708.2 536.0 L1708.9 536.1 L1709.6 535.9 L1710.3 535.8 L1711.0 535.8 L1711.7 536.1 L1712.4 536.2 L1713.1 536.4 L1713.8 536.0 L1714.5 536.4 L1715.2 536.5 L1715.9 536.8 L1716.6 536.4 L1717.3 536.4 L1718.0 536.2 L1718.7 536.4 L1719.4 536.4 L1720.1 536.5 L1720.8 536.5 L1721.5 536.5 L1722.2 536.8 L1722.9 536.9 L1723.6 537.0 L1724.3 536.9 L1725.0 537.2 L1725.7 537.2 L1726.4 536.8 L1727.1 537.1 L1727.8 537.0 L1728.5 537.1" stroke-width="4.5"/>
<path d="M1728.5 537.1 L1729.2 537.3 L1729.9 537.3 L1730.6 537.6 L1731.3 537.8 L1732.0 537.6 L1732.7 537.5 L1733.4 537.6 L1734.1 537.6 L1734.8 537.8 L1735.5 537.6 L1736.2 537.9 L1736.9 537.8 L1737.6 538.0 L1738.3 538.1 L1739.0 538.2 L1739.7 538.0 L1740.4 537.9 L1741.1 537.8 L1741.8 538.1 L1742.5 538.0 L1743.2 538.0 L1743.9 538.2 L1744.6 538.2 L1745.3 538.5 L1746.0 538.7 L1746.7 538.5 L1747.4 538.6 L1748.1 538.3 L1748.8 538.7 L1749.5 538.6 L1750.2 538.6 L1750.9 538.5 L1751.6 539.0 L1752.3 538.6 L1753.0 538.7 L1753.7 538.9 L1754.4 539.0 L1755.1 539.1 L1755.8 539.1 L1756.5 539.0 L1757.2 539.3 L1757.9 539.2 L1758.6 539.0 L1759.3 539.5 L1760.0 539.3 L1760.7 539.5 L1761.4 539.2 L1762.1 539.3 L1762.8 539.4 L1763.5 539.4 L1764.2 539.7 L1764.9 539.4 L1765.6 539.7 L1766.3 539.5 L1767.0 539.8 L1767.7 539.8 L1768.4 539.7 L1769.1 540.1 L1769.8 539.9 L1770.5 540.1 L1771.2 539.8 L1771.9 540.0 L1772.6 540.0 L1773.3 540.1 L1774.0 540.1 L1774.7 540.0 L1775.4 539.8 L1776.1 540.2 L1776.8 540.2 L1777.5 540.3 L1778.2 540.5 L1778.9 540.7 L1779.6 540.5 L1780.3 540.6 L1781.0 540.6 L1781.7 540.7 L1782.4 540.7 L1783.1 540.7 L1783.8 540.7" stroke-width="4.5"/>
</g>
<path d="M1116.0 107.0 L1117.3 109.0 L1118.5 122.0 L1119.5 118.0 L1120.5 140.0 L1121.2 168.0 L1122.5 150.0 L1123.5 160.0 L1125.0 188.0 L1126.0 172.0 L1127.5 162.0 L1129.0 158.0 L1130.2 176.4 L1132.0 190.0 L1134.0 188.0 L1136.0 200.0 L1138.9 206.6 L1143.0 218.0 L1147.7 230.0 L1149.7 232.5" fill="none" stroke="#ff8000" stroke-width="5.2" stroke-linejoin="round" stroke-linecap="round"/>
<g fill="none" stroke="#ff8000" stroke-linejoin="round" stroke-linecap="round">
<path d="M1149.7 232.6 L1150.5 235.1 L1151.3 236.5 L1152.1 238.7 L1152.9 239.2 L1153.7 241.7 L1154.5 243.5 L1155.3 245.3 L1156.1 246.1 L1156.9 247.6 L1157.7 249.0 L1158.5 251.4 L1159.3 254.2 L1160.1 254.8 L1160.9 255.6 L1161.7 257.8 L1162.5 259.0 L1163.3 260.6 L1164.1 261.8 L1164.9 262.8 L1165.7 264.5 L1166.5 266.5 L1167.3 267.7 L1168.1 269.4 L1168.9 269.7 L1169.7 272.0 L1170.5 272.8 L1171.3 274.2 L1172.1 275.9 L1172.9 276.5 L1173.7 278.0 L1174.5 279.4 L1175.3 280.6 L1176.1 281.9 L1176.9 283.3 L1177.7 284.1 L1178.5 284.9 L1179.3 287.3 L1180.1 287.4 L1180.9 288.7 L1181.7 289.3 L1182.5 289.8 L1183.3 291.5 L1184.1 293.0 L1184.9 294.3 L1185.7 295.2 L1186.5 296.6 L1187.3 297.8 L1188.1 298.8 L1188.9 299.5 L1189.7 300.6 L1190.5 301.5 L1191.3 302.3 L1192.1 304.3 L1192.9 304.2 L1193.7 305.7 L1194.5 306.9 L1195.3 306.8 L1196.1 309.1 L1196.9 309.6 L1197.7 310.8 L1198.5 311.4 L1199.3 311.8 L1200.1 313.5 L1200.9 314.3 L1201.7 315.5 L1202.5 316.2 L1203.3 316.1 L1204.1 318.1 L1204.9 318.8 L1205.7 319.6 L1206.5 320.3 L1207.3 320.6 L1208.1 321.8 L1208.9 322.2 L1209.7 324.3 L1210.5 323.6 L1211.3 323.9 L1212.1 324.9 L1212.9 326.2" stroke-width="6.4"/>
<path d="M1212.9 326.2 L1213.7 325.9 L1214.5 325.6 L1215.3 327.8 L1216.1 327.8 L1216.9 328.0 L1217.7 329.0 L1218.5 328.7 L1219.3 329.1 L1220.1 330.4 L1220.9 330.2 L1221.7 331.0 L1222.5 331.2 L1223.3 331.8 L1224.1 331.7 L1224.9 331.1 L1225.7 332.5 L1226.5 332.1 L1227.3 332.9 L1228.1 332.7 L1228.9 333.5 L1229.7 332.9 L1230.5 332.2 L1231.3 333.1 L1232.1 333.6 L1232.9 333.4 L1233.7 333.4 L1234.5 334.3 L1235.3 333.7 L1236.1 334.2 L1236.9 333.9 L1237.7 333.2 L1238.5 333.4 L1239.3 333.6 L1240.1 333.8 L1240.9 333.3 L1241.7 332.9 L1242.5 333.0 L1243.3 333.1 L1244.1 332.8 L1244.9 332.8 L1245.7 333.8 L1246.5 332.9 L1247.3 332.3 L1248.1 332.5 L1248.9 333.1 L1249.7 332.6 L1250.5 332.1 L1251.3 331.4 L1252.1 331.1 L1252.9 331.5 L1253.7 331.4 L1254.5 330.6 L1255.3 330.5 L1256.1 330.9 L1256.9 329.7 L1257.7 329.7 L1258.5 330.2 L1259.3 330.3 L1260.1 330.0 L1260.9 330.0 L1261.7 330.1 L1262.5 329.5 L1263.3 328.8 L1264.1 329.6 L1264.9 329.2 L1265.7 328.7 L1266.5 327.8 L1267.3 328.1 L1268.1 326.9 L1268.9 327.4 L1269.7 326.3 L1270.5 327.1 L1271.3 327.5 L1272.1 326.9 L1272.9 327.4 L1273.7 326.6 L1274.5 326.5 L1275.3 326.1 L1276.1 326.3" stroke-width="6.2"/>
<path d="M1276.1 326.3 L1276.9 325.9 L1277.7 326.3 L1278.5 326.3 L1279.3 325.7 L1280.1 324.9 L1280.9 325.4 L1281.7 325.6 L1282.5 325.2 L1283.3 324.9 L1284.1 325.0 L1284.9 325.1 L1285.7 323.2 L1286.5 324.9 L1287.3 324.4 L1288.1 324.2 L1288.9 323.6 L1289.7 323.8 L1290.5 323.8 L1291.3 322.8 L1292.1 323.6 L1292.9 323.2 L1293.7 323.7 L1294.5 323.2 L1295.3 322.7 L1296.1 322.7 L1296.9 322.8 L1297.7 322.5 L1298.5 322.6 L1299.3 321.9 L1300.1 321.6 L1300.9 321.8 L1301.7 321.3 L1302.5 321.5 L1303.3 321.8 L1304.1 320.9 L1304.9 321.0 L1305.7 321.7 L1306.5 321.1 L1307.3 321.2 L1308.1 320.6 L1308.9 320.6 L1309.7 320.8 L1310.5 321.5 L1311.3 320.9 L1312.1 319.9 L1312.9 320.7 L1313.7 320.8 L1314.5 320.7 L1315.3 319.8 L1316.1 320.2 L1316.9 321.0 L1317.7 319.6 L1318.5 320.1 L1319.3 319.5 L1320.1 319.2 L1320.9 319.4 L1321.7 320.0 L1322.5 319.9 L1323.3 319.0 L1324.1 319.0 L1324.9 318.8 L1325.7 318.2 L1326.5 319.2 L1327.3 319.6 L1328.1 319.5 L1328.9 318.6 L1329.7 319.3 L1330.5 319.2 L1331.3 318.6 L1332.1 318.8 L1332.9 318.6 L1333.7 318.9 L1334.5 319.6 L1335.3 318.6 L1336.1 318.5 L1336.9 319.5 L1337.7 319.2 L1338.5 318.4 L1339.3 318.9" stroke-width="6.0"/>
<path d="M1339.3 318.9 L1340.1 319.0 L1340.9 319.2 L1341.7 319.6 L1342.5 319.9 L1343.3 319.5 L1344.1 319.6 L1344.9 319.3 L1345.7 320.1 L1346.5 320.2 L1347.3 319.6 L1348.1 319.4 L1348.9 320.6 L1349.7 320.1 L1350.5 319.4 L1351.3 319.1 L1352.1 319.7 L1352.9 320.3 L1353.7 319.6 L1354.5 319.8 L1355.3 319.7 L1356.1 320.2 L1356.9 320.5 L1357.7 319.4 L1358.5 319.8 L1359.3 319.9 L1360.1 319.7 L1360.9 319.5 L1361.7 320.3 L1362.5 320.1 L1363.3 320.3 L1364.1 320.7 L1364.9 319.9 L1365.7 320.3 L1366.5 319.9 L1367.3 320.0 L1368.1 320.2 L1368.9 320.0 L1369.7 319.4 L1370.5 320.7 L1371.3 320.1 L1372.1 319.6 L1372.9 319.1 L1373.7 320.0 L1374.5 320.3 L1375.3 320.5 L1376.1 320.5 L1376.9 319.9 L1377.7 320.3 L1378.5 319.4 L1379.3 320.1 L1380.1 320.4 L1380.9 319.8 L1381.7 320.0 L1382.5 320.1 L1383.3 320.1 L1384.1 320.7 L1384.9 319.6 L1385.7 320.6 L1386.5 319.5 L1387.3 319.8 L1388.1 319.7 L1388.9 320.0 L1389.7 319.8 L1390.5 320.2 L1391.3 320.0 L1392.1 320.9 L1392.9 320.2 L1393.7 319.9 L1394.5 320.2 L1395.3 320.3 L1396.1 320.0 L1396.9 319.6 L1397.7 319.7 L1398.5 320.1 L1399.3 320.4 L1400.1 320.2 L1400.9 320.0 L1401.7 320.3 L1402.5 319.8 L1403.3 320.1" stroke-width="5.8"/>
<path d="M1403.3 320.1 L1404.1 320.6 L1404.9 320.5 L1405.7 320.6 L1406.5 319.9 L1407.3 320.1 L1408.1 319.6 L1408.9 320.4 L1409.7 319.9 L1410.5 319.5 L1411.3 319.9 L1412.1 320.2 L1412.9 319.2 L1413.7 319.5 L1414.5 320.5 L1415.3 320.2 L1416.1 320.1 L1416.9 319.5 L1417.7 320.8 L1418.5 320.6 L1419.3 320.5 L1420.1 319.7 L1420.9 320.5 L1421.7 320.7 L1422.5 320.2 L1423.3 320.3 L1424.1 320.4 L1424.9 321.0 L1425.7 320.8 L1426.5 321.1 L1427.3 320.9 L1428.1 321.1 L1428.9 322.4 L1429.7 322.9 L1430.5 322.9 L1431.3 323.3 L1432.1 322.7 L1432.9 323.1 L1433.7 323.4 L1434.5 323.3 L1435.3 324.1 L1436.1 323.0 L1436.9 323.4 L1437.7 323.6 L1438.5 323.5 L1439.3 324.2 L1440.1 323.1 L1440.9 324.5 L1441.7 324.4 L1442.5 324.3 L1443.3 324.8 L1444.1 325.2 L1444.9 324.4 L1445.7 324.7 L1446.5 324.6 L1447.3 324.7 L1448.1 324.3 L1448.9 324.3 L1449.7 324.9 L1450.5 324.5 L1451.3 325.1 L1452.1 325.1 L1452.9 324.7 L1453.7 325.0 L1454.5 325.0 L1455.3 324.9 L1456.1 325.5 L1456.9 325.1 L1457.7 325.3 L1458.5 324.5 L1459.3 325.5 L1460.1 324.8 L1460.9 325.3 L1461.7 326.1 L1462.5 326.3 L1463.3 325.5 L1464.1 325.2 L1464.9 325.9 L1465.7 325.7 L1466.5 326.0" stroke-width="5.6"/>
<path d="M1466.5 326.0 L1467.3 325.4 L1468.1 326.5 L1468.9 326.7 L1469.7 325.6 L1470.5 325.9 L1471.3 326.0 L1472.1 326.7 L1472.9 325.7 L1473.7 326.6 L1474.5 326.5 L1475.3 326.4 L1476.1 327.0 L1476.9 326.0 L1477.7 326.3 L1478.5 326.6 L1479.3 327.3 L1480.1 326.9 L1480.9 326.8 L1481.7 327.4 L1482.5 327.0 L1483.3 327.0 L1484.1 327.2 L1484.9 327.5 L1485.7 328.5 L1486.5 327.1 L1487.3 327.6 L1488.1 327.5 L1488.9 327.5 L1489.7 328.3 L1490.5 328.0 L1491.3 328.0 L1492.1 327.6 L1492.9 327.4 L1493.7 327.9 L1494.5 327.7 L1495.3 327.6 L1496.1 328.1 L1496.9 327.4 L1497.7 327.6 L1498.5 328.2 L1499.3 327.9 L1500.1 328.2 L1500.9 327.6 L1501.7 328.2 L1502.5 327.7 L1503.3 328.5 L1504.1 328.3 L1504.9 328.2 L1505.7 328.7 L1506.5 328.2 L1507.3 327.9 L1508.1 328.7 L1508.9 328.3 L1509.7 328.7 L1510.5 328.4 L1511.3 328.9 L1512.1 328.2 L1512.9 328.2 L1513.7 328.3 L1514.5 329.3 L1515.3 328.4 L1516.1 328.6 L1516.9 328.9 L1517.7 329.6 L1518.5 329.8 L1519.3 329.4 L1520.1 330.0 L1520.9 329.9 L1521.7 330.2 L1522.5 330.1 L1523.3 329.5 L1524.1 329.8 L1524.9 329.7 L1525.7 329.9 L1526.5 329.8 L1527.3 329.7 L1528.1 330.0 L1528.9 329.7 L1529.7 330.0" stroke-width="5.5"/>
<path d="M1529.7 330.0 L1530.5 329.7 L1531.3 329.6 L1532.1 330.0 L1532.9 330.0 L1533.7 330.1 L1534.5 329.9 L1535.3 329.5 L1536.1 329.7 L1536.9 329.6 L1537.7 328.9 L1538.5 329.1 L1539.3 330.1 L1540.1 329.5 L1540.9 328.4 L1541.7 329.4 L1542.5 329.5 L1543.3 329.0 L1544.1 330.3 L1544.9 329.8 L1545.7 329.7 L1546.5 329.2 L1547.3 329.5 L1548.1 329.6 L1548.9 329.4 L1549.7 328.9 L1550.5 329.2 L1551.3 329.1 L1552.1 329.1 L1552.9 328.5 L1553.7 329.0 L1554.5 328.8 L1555.3 328.8 L1556.1 328.7 L1556.9 328.0 L1557.7 328.8 L1558.5 328.7 L1559.3 327.8 L1560.1 328.2 L1560.9 327.9 L1561.7 327.9 L1562.5 328.4 L1563.3 328.1 L1564.1 328.6 L1564.9 327.8 L1565.7 327.2 L1566.5 327.6 L1567.3 326.5 L1568.1 328.0 L1568.9 327.3 L1569.7 327.2 L1570.5 326.9 L1571.3 326.3 L1572.1 326.4 L1572.9 325.9 L1573.7 325.8 L1574.5 325.9 L1575.3 325.1 L1576.1 325.9 L1576.9 324.7 L1577.7 325.2 L1578.5 324.5 L1579.3 324.2 L1580.1 324.7 L1580.9 324.5 L1581.7 324.3 L1582.5 324.3 L1583.3 324.0 L1584.1 324.4 L1584.9 324.0 L1585.7 324.1 L1586.5 324.5 L1587.3 323.5 L1588.1 323.7 L1588.9 323.7 L1589.7 323.6 L1590.5 323.3 L1591.3 323.7 L1592.1 323.8 L1592.9 323.7 L1593.7 323.1" stroke-width="5.3"/>
<path d="M1593.7 323.1 L1594.5 324.0 L1595.3 323.9 L1596.1 323.7 L1596.9 323.3 L1597.7 323.3 L1598.5 324.4 L1599.3 324.3 L1600.1 323.8 L1600.9 323.3 L1601.7 324.1 L1602.5 323.7 L1603.3 324.3 L1604.1 323.4 L1604.9 323.9 L1605.7 323.6 L1606.5 324.0 L1607.3 323.6 L1608.1 324.2 L1608.9 323.7 L1609.7 323.6 L1610.5 324.2 L1611.3 324.1 L1612.1 323.3 L1612.9 324.2 L1613.7 324.3 L1614.5 324.4 L1615.3 325.2 L1616.1 324.2 L1616.9 324.6 L1617.7 324.0 L1618.5 324.2 L1619.3 324.6 L1620.1 324.9 L1620.9 324.9 L1621.7 325.3 L1622.5 325.5 L1623.3 325.7 L1624.1 325.4 L1624.9 325.8 L1625.7 325.6 L1626.5 326.2 L1627.3 326.5 L1628.1 326.4 L1628.9 325.6 L1629.7 326.9 L1630.5 328.3 L1631.3 327.6 L1632.1 327.6 L1632.9 328.2 L1633.7 328.8 L1634.5 328.6 L1635.3 328.6 L1636.1 328.3 L1636.9 328.7 L1637.7 328.4 L1638.5 329.0 L1639.3 329.5 L1640.1 329.3 L1640.9 328.7 L1641.7 328.5 L1642.5 328.4 L1643.3 329.1 L1644.1 329.1 L1644.9 329.2 L1645.7 329.1 L1646.5 329.5 L1647.3 331.1 L1648.1 334.2 L1648.9 335.3 L1649.7 338.1 L1650.5 338.3 L1651.3 340.2 L1652.1 341.1 L1652.9 342.3 L1653.7 343.3 L1654.5 343.4 L1655.3 344.4 L1656.1 344.2 L1656.9 344.8" stroke-width="5.1"/>
<path d="M1656.9 344.8 L1657.7 344.9 L1658.5 345.4 L1659.3 345.5 L1660.1 346.1 L1660.9 347.4 L1661.7 345.7 L1662.5 346.3 L1663.3 346.7 L1664.1 346.6 L1664.9 347.2 L1665.7 346.4 L1666.5 347.1 L1667.3 346.6 L1668.1 347.2 L1668.9 347.0 L1669.7 347.1 L1670.5 346.8 L1671.3 346.4 L1672.1 346.7 L1672.9 347.4 L1673.7 347.1 L1674.5 347.5 L1675.3 346.8 L1676.1 347.5 L1676.9 347.6 L1677.7 346.5 L1678.5 347.4 L1679.3 347.8 L1680.1 346.6 L1680.9 347.0 L1681.7 346.2 L1682.5 346.1 L1683.3 345.1 L1684.1 344.5 L1684.9 344.3 L1685.7 343.9 L1686.5 343.4 L1687.3 343.1 L1688.1 343.6 L1688.9 342.8 L1689.7 342.4 L1690.5 342.3 L1691.3 342.6 L1692.1 341.4 L1692.9 342.3 L1693.7 342.2 L1694.5 342.2 L1695.3 341.5 L1696.1 341.2 L1696.9 341.4 L1697.7 341.3 L1698.5 341.7 L1699.3 341.1 L1700.1 340.9 L1700.9 340.5 L1701.7 341.0 L1702.5 341.3 L1703.3 341.8 L1704.1 341.7 L1704.9 342.5 L1705.7 342.8 L1706.5 342.3 L1707.3 342.2 L1708.1 342.4 L1708.9 342.5 L1709.7 342.2 L1710.5 342.7 L1711.3 342.6 L1712.1 342.7 L1712.9 342.2 L1713.7 341.9 L1714.5 342.1 L1715.3 341.6 L1716.1 341.9 L1716.9 341.6 L1717.7 342.3 L1718.5 341.0 L1719.3 342.3 L1720.1 342.5" stroke-width="4.9"/>
<path d="M1720.1 342.5 L1720.9 342.3 L1721.7 342.7 L1722.5 342.8 L1723.3 343.5 L1724.1 343.8 L1724.9 343.5 L1725.7 344.3 L1726.5 343.8 L1727.3 344.4 L1728.1 344.6 L1728.9 344.2 L1729.7 345.0 L1730.5 344.9 L1731.3 345.6 L1732.1 345.2 L1732.9 345.2 L1733.7 345.6 L1734.5 346.3 L1735.3 346.7 L1736.1 347.0 L1736.9 347.0 L1737.7 348.0 L1738.5 348.0 L1739.3 348.6 L1740.1 349.5 L1740.9 349.5 L1741.7 349.2 L1742.5 350.3 L1743.3 350.1 L1744.1 350.1 L1744.9 350.7 L1745.7 350.0 L1746.5 350.4 L1747.3 350.0 L1748.1 350.7 L1748.9 349.0 L1749.7 348.3 L1750.5 346.9 L1751.3 345.7 L1752.1 344.5 L1752.9 344.0 L1753.7 344.2 L1754.5 343.6 L1755.3 344.1 L1756.1 344.2 L1756.9 344.6 L1757.7 344.4 L1758.5 345.0 L1759.3 345.5 L1760.1 345.9 L1760.9 346.6 L1761.7 346.7 L1762.5 347.0 L1763.3 347.0 L1764.1 347.7 L1764.9 347.3 L1765.7 347.7 L1766.5 347.5 L1767.3 348.0 L1768.1 349.0 L1768.9 349.0 L1769.7 349.1 L1770.5 350.5 L1771.3 351.1 L1772.1 351.2 L1772.9 352.0 L1773.7 352.1 L1774.5 352.3 L1775.3 352.6 L1776.1 352.1 L1776.9 352.7 L1777.7 352.2 L1778.5 352.2 L1779.3 352.7 L1780.1 352.4 L1780.9 352.2 L1781.7 352.3 L1782.5 352.4 L1783.3 351.8" stroke-width="4.7"/>
</g>
</g>
<text x="1094" y="581.3" font-size="32" text-anchor="end">0.0</text>
<text x="1094" y="518.4" font-size="32" text-anchor="end">0.5</text>
<text x="1094" y="455.5" font-size="32" text-anchor="end">1.0</text>
<text x="1094" y="392.6" font-size="32" text-anchor="end">1.5</text>
<text x="1094" y="329.8" font-size="32" text-anchor="end">2.0</text>
<text x="1094" y="266.9" font-size="32" text-anchor="end">2.5</text>
<text x="1094" y="204.0" font-size="32" text-anchor="end">3.0</text>
<text x="1094" y="141.1" font-size="32" text-anchor="end">3.5</text>
<text x="1094" y="78.2" font-size="32" text-anchor="end">4.0</text>
<text x="1116.6" y="650.5" font-size="32" text-anchor="middle">0</text>
<text x="1249.8" y="650.5" font-size="32" text-anchor="middle">3</text>
<text x="1383.1" y="650.5" font-size="32" text-anchor="middle">6</text>
<text x="1516.3" y="650.5" font-size="32" text-anchor="middle">9</text>
<text x="1649.6" y="650.5" font-size="32" text-anchor="middle">12</text>
<text x="1782.8" y="650.5" font-size="32" text-anchor="middle">15</text>
<text x="1438" y="704" font-size="43.3" text-anchor="middle">Time (hours)</text>
<g transform="translate(1015,442.9) rotate(-90)" font-size="43.5"><text x="-1" y="0" class="i">J</text> <text x="20" y="18" class="i" font-size="26">ph</text> <text x="68" y="0">(mA/cm</text> <text x="215.3" y="-22.4" font-size="25.5">2</text> <text x="231" y="0">)</text></g>
<text transform="translate(1141,99.6) scale(1.018,1)" font-size="25.4" class="b" fill="#ff8000"><tspan class="al" font-size="29.5" stroke="#ff8000">α</tspan>-Fe<tspan font-size="14.5" dy="10.5">2</tspan><tspan dy="-10.5">O</tspan><tspan font-size="14.5" dy="10.5">3</tspan><tspan dy="-10.5">-FeOOH in 10 mM HMF + 2mg /ml TEMPO</tspan></text>
<text transform="translate(1141,141.2) scale(1.018,1)" font-size="25.4" class="b" fill="#800080"><tspan class="al" font-size="29.5" stroke="#800080">α</tspan>-Fe<tspan font-size="14.5" dy="10.5">2</tspan><tspan dy="-10.5">O</tspan><tspan font-size="14.5" dy="10.5">3</tspan><tspan dy="-10.5">-FeOOH in 10 mM HMF + 1mg /ml TEMPO</tspan></text>
<text transform="translate(1141,182.8) scale(1.018,1)" font-size="25.4" class="b" fill="#008000"><tspan class="al" font-size="29.5" stroke="#008000">α</tspan>-Fe<tspan font-size="14.5" dy="10.5">2</tspan><tspan dy="-10.5">O</tspan><tspan font-size="14.5" dy="10.5">3</tspan><tspan dy="-10.5">-FeOOH in 10 mM HMF</tspan></text>
<text x="1783.2" y="61" font-size="25.6" class="b" text-anchor="end">pH 12.5</text>
<text transform="translate(1000.5,53.2) scale(1,1.03)" font-size="53" class="serif">b</text>
</g>
</svg></body></html>
